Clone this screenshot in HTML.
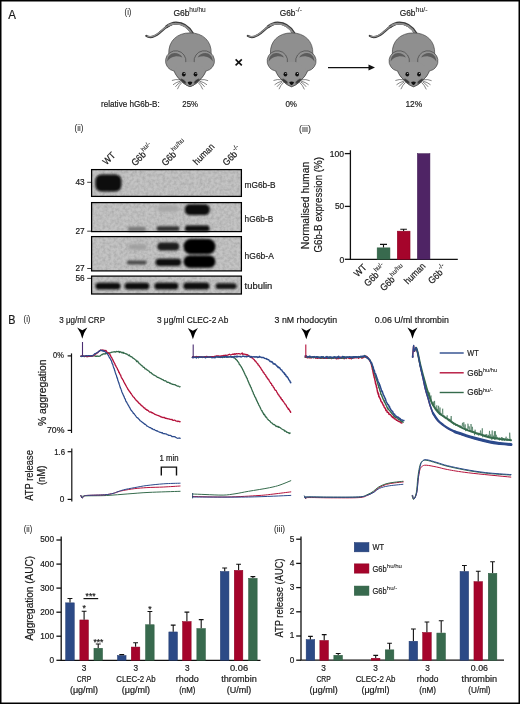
<!DOCTYPE html>
<html><head><meta charset="utf-8">
<style>
html,body{margin:0;padding:0;background:#fff;}
svg{display:block;will-change:transform;}
text{font-family:"Liberation Sans",sans-serif;fill:#1a1a1a;stroke:#1a1a1a;stroke-width:0.2px;}
</style></head>
<body>
<svg width="520" height="704" viewBox="0 0 520 704">
<defs>
<filter id="bl" x="-30%" y="-60%" width="160%" height="220%"><feGaussianBlur stdDeviation="1.05"/></filter>
<filter id="bls" x="-50%" y="-50%" width="200%" height="200%"><feGaussianBlur stdDeviation="0.45"/></filter>
<filter id="grain" x="0" y="0" width="100%" height="100%"><feTurbulence type="fractalNoise" baseFrequency="0.35" numOctaves="2" seed="7" result="t"/><feColorMatrix in="t" type="matrix" values="0 0 0 0 0  0 0 0 0 0  0 0 0 0 0  0 0 0 0.22 -0.07" result="m"/><feComposite in="m" in2="SourceGraphic" operator="in"/></filter>
<filter id="bl2" x="-30%" y="-60%" width="160%" height="220%"><feGaussianBlur stdDeviation="1.4"/></filter>
<clipPath id="faceclip"><path d="M174.6,71 C176,75 177.5,77 179,78.5 C182,82 185,85 190,86.9 C195,85 198,82 201,78.5 C202.5,77 204,75 205.4,71 L205.4,60 L174.6,60 Z"/></clipPath>
</defs>

<!-- frame -->
<rect x="0.75" y="0.75" width="518.5" height="702.5" fill="none" stroke="#000" stroke-width="1.5"/>

<!-- ===== PANEL A (i) ===== -->
<text x="8.2" y="18.9" font-size="12.4" textLength="7.7" lengthAdjust="spacingAndGlyphs">A</text>
<text x="124.6" y="15.2" font-size="9.2" textLength="6.8" lengthAdjust="spacingAndGlyphs" style="stroke-width:0.05px">(i)</text>

<text x="173.5" y="16.2" font-size="9.8" textLength="16.1" lengthAdjust="spacingAndGlyphs">G6b</text>
<text x="189.3" y="12.1" font-size="6.8" style="stroke-width:0.08px" textLength="16.4" lengthAdjust="spacingAndGlyphs">hu/hu</text>
<text x="279.7" y="16.2" font-size="9.8" textLength="15.7" lengthAdjust="spacingAndGlyphs">G6b</text>
<text x="295.6" y="12.1" font-size="6.8" style="stroke-width:0.08px" textLength="6.4" lengthAdjust="spacingAndGlyphs">-/-</text>
<text x="399.7" y="16.2" font-size="9.8" textLength="15.8" lengthAdjust="spacingAndGlyphs">G6b</text>
<text x="415.6" y="12.1" font-size="6.8" style="stroke-width:0.08px" textLength="12" lengthAdjust="spacingAndGlyphs">hu/-</text>

<g>
 <!-- tail -->
 <path d="M146.3,35.9 C149.6,38 154,37.3 159.5,32.9 C165,28 169,23.8 175,23.5 C182,23.3 188,26.5 192.2,33.8" fill="none" stroke="#3c3c3c" stroke-width="2.2" stroke-linecap="round"/>
 <path d="M166,27.2 C170,23.8 173,23 176,23 C183,23.1 188.8,26.8 192.6,33.8" fill="none" stroke="#3c3c3c" stroke-width="3"/>
 <path d="M147.2,35.9 C150,37.3 154,36.7 159.3,32.5 C165,27.7 169,23.9 175,23.6 C182,23.4 187.8,26.9 191.8,33.6" fill="none" stroke="#8e8e8e" stroke-width="1.1" stroke-linecap="round"/>
 <path d="M168,25.4 C171,23.9 173,23.6 175,23.6 C182,23.4 187.8,26.9 191.8,33.6" fill="none" stroke="#8e8e8e" stroke-width="1.8"/>
 <!-- body + head silhouette -->
 <path d="M190,32.9 C203,32.9 211.8,41 211.2,54 L205.4,71 C204,75 202.5,77 201,78.5 C198,82 195,85 190,86.7 C185,85 182,82 179,78.5 C177.5,77 176,75 174.6,71 L168.8,54 C168.2,41 177,32.9 190,32.9 Z" fill="#8f8f8f" stroke="#454545" stroke-width="0.7"/>
 <!-- ears -->
 <circle cx="175.7" cy="61" r="10.2" fill="#939393"/>
 <circle cx="204.3" cy="61" r="10.2" fill="#939393"/>
 <path d="M173.9,71 A10.2,10.2 0 1 1 185.8,62.6" fill="none" stroke="#454545" stroke-width="0.7"/>
 <path d="M206.1,71 A10.2,10.2 0 1 0 194.2,62.6" fill="none" stroke="#454545" stroke-width="0.7"/>
 <!-- face fill over ear bottoms -->
 <path d="M186,62 L194,62 C198,64 203,66 205.4,71 C204,75 202.5,77 201,78.5 C198,82 195,85 190,86.7 C185,85 182,82 179,78.5 C177.5,77 176,75 174.6,71 C177,66 182,64 186,62 Z" fill="#939393"/>
 <path d="M173.8,70.6 C175.6,75 177.5,77 179,78.5 C182,82 185,85 190,86.7 C195,85 198,82 201,78.5 C202.5,77 204.4,75 206.2,70.6" fill="none" stroke="#454545" stroke-width="0.7"/>
 <!-- inner ears -->
 <path d="M167.2,61.5 C167.4,56 171,53.1 174.5,53.1 C178,53.1 181,55 182.4,57.4 C180,56.4 177.5,56.2 175.1,56.4 C172,56.8 169,58.5 167.2,61.5 Z" fill="#5c5c5c"/>
 <path d="M212.8,61.5 C212.6,56 209,53.1 205.5,53.1 C202,53.1 199,55 197.6,57.4 C200,56.4 202.5,56.2 204.9,56.4 C208,56.8 211,58.5 212.8,61.5 Z" fill="#5c5c5c"/>
 <!-- whisker pads -->
 <g clip-path="url(#faceclip)">
 <ellipse cx="183.2" cy="81.3" rx="3.4" ry="1.5" transform="rotate(38 183.2 81.3)" fill="#3a3a3a" filter="url(#bls)"/>
 <ellipse cx="196.8" cy="81.3" rx="3.4" ry="1.5" transform="rotate(-38 196.8 81.3)" fill="#3a3a3a" filter="url(#bls)"/>
 </g>
 <!-- whiskers -->
 <g fill="none" stroke="#333" stroke-width="0.6">
  <path d="M180,79.8 Q175.5,79 171.9,80.5"/>
  <path d="M180.4,81.2 Q176,82.2 173,84.8"/>
  <path d="M182,82.4 Q179,85 177.4,89.2"/>
  <path d="M181,81.8 Q177.4,84 175.4,86.8"/>
  <path d="M200,79.8 Q204.5,79 208.1,80.7"/>
  <path d="M199.6,81.2 Q204,82.2 207,84.8"/>
  <path d="M198,82.4 Q201,85 202.8,89.4"/>
  <path d="M199,81.8 Q202.6,84 204.6,86.8"/>
 </g>
 <!-- eyes -->
 <ellipse cx="183.8" cy="74.2" rx="1.85" ry="2.2" fill="#111"/>
 <ellipse cx="195.5" cy="74.2" rx="1.85" ry="2.2" fill="#111"/>
 <circle cx="184.2" cy="73.5" r="0.55" fill="#ddd"/>
 <circle cx="195.9" cy="73.5" r="0.55" fill="#ddd"/>
 <!-- nose -->
 <path d="M187.6,82 Q190,80.8 192.4,82 Q192,84.4 190,85.2 Q188,84.4 187.6,82 Z" fill="#111"/>
</g>
<g transform="translate(101.6,0)">
 <!-- tail -->
 <path d="M146.3,35.9 C149.6,38 154,37.3 159.5,32.9 C165,28 169,23.8 175,23.5 C182,23.3 188,26.5 192.2,33.8" fill="none" stroke="#3c3c3c" stroke-width="2.2" stroke-linecap="round"/>
 <path d="M166,27.2 C170,23.8 173,23 176,23 C183,23.1 188.8,26.8 192.6,33.8" fill="none" stroke="#3c3c3c" stroke-width="3"/>
 <path d="M147.2,35.9 C150,37.3 154,36.7 159.3,32.5 C165,27.7 169,23.9 175,23.6 C182,23.4 187.8,26.9 191.8,33.6" fill="none" stroke="#8e8e8e" stroke-width="1.1" stroke-linecap="round"/>
 <path d="M168,25.4 C171,23.9 173,23.6 175,23.6 C182,23.4 187.8,26.9 191.8,33.6" fill="none" stroke="#8e8e8e" stroke-width="1.8"/>
 <!-- body + head silhouette -->
 <path d="M190,32.9 C203,32.9 211.8,41 211.2,54 L205.4,71 C204,75 202.5,77 201,78.5 C198,82 195,85 190,86.7 C185,85 182,82 179,78.5 C177.5,77 176,75 174.6,71 L168.8,54 C168.2,41 177,32.9 190,32.9 Z" fill="#8f8f8f" stroke="#454545" stroke-width="0.7"/>
 <!-- ears -->
 <circle cx="175.7" cy="61" r="10.2" fill="#939393"/>
 <circle cx="204.3" cy="61" r="10.2" fill="#939393"/>
 <path d="M173.9,71 A10.2,10.2 0 1 1 185.8,62.6" fill="none" stroke="#454545" stroke-width="0.7"/>
 <path d="M206.1,71 A10.2,10.2 0 1 0 194.2,62.6" fill="none" stroke="#454545" stroke-width="0.7"/>
 <!-- face fill over ear bottoms -->
 <path d="M186,62 L194,62 C198,64 203,66 205.4,71 C204,75 202.5,77 201,78.5 C198,82 195,85 190,86.7 C185,85 182,82 179,78.5 C177.5,77 176,75 174.6,71 C177,66 182,64 186,62 Z" fill="#939393"/>
 <path d="M173.8,70.6 C175.6,75 177.5,77 179,78.5 C182,82 185,85 190,86.7 C195,85 198,82 201,78.5 C202.5,77 204.4,75 206.2,70.6" fill="none" stroke="#454545" stroke-width="0.7"/>
 <!-- inner ears -->
 <path d="M167.2,61.5 C167.4,56 171,53.1 174.5,53.1 C178,53.1 181,55 182.4,57.4 C180,56.4 177.5,56.2 175.1,56.4 C172,56.8 169,58.5 167.2,61.5 Z" fill="#5c5c5c"/>
 <path d="M212.8,61.5 C212.6,56 209,53.1 205.5,53.1 C202,53.1 199,55 197.6,57.4 C200,56.4 202.5,56.2 204.9,56.4 C208,56.8 211,58.5 212.8,61.5 Z" fill="#5c5c5c"/>
 <!-- whisker pads -->
 <g clip-path="url(#faceclip)">
 <ellipse cx="183.2" cy="81.3" rx="3.4" ry="1.5" transform="rotate(38 183.2 81.3)" fill="#3a3a3a" filter="url(#bls)"/>
 <ellipse cx="196.8" cy="81.3" rx="3.4" ry="1.5" transform="rotate(-38 196.8 81.3)" fill="#3a3a3a" filter="url(#bls)"/>
 </g>
 <!-- whiskers -->
 <g fill="none" stroke="#333" stroke-width="0.6">
  <path d="M180,79.8 Q175.5,79 171.9,80.5"/>
  <path d="M180.4,81.2 Q176,82.2 173,84.8"/>
  <path d="M182,82.4 Q179,85 177.4,89.2"/>
  <path d="M181,81.8 Q177.4,84 175.4,86.8"/>
  <path d="M200,79.8 Q204.5,79 208.1,80.7"/>
  <path d="M199.6,81.2 Q204,82.2 207,84.8"/>
  <path d="M198,82.4 Q201,85 202.8,89.4"/>
  <path d="M199,81.8 Q202.6,84 204.6,86.8"/>
 </g>
 <!-- eyes -->
 <ellipse cx="183.8" cy="74.2" rx="1.85" ry="2.2" fill="#111"/>
 <ellipse cx="195.5" cy="74.2" rx="1.85" ry="2.2" fill="#111"/>
 <circle cx="184.2" cy="73.5" r="0.55" fill="#ddd"/>
 <circle cx="195.9" cy="73.5" r="0.55" fill="#ddd"/>
 <!-- nose -->
 <path d="M187.6,82 Q190,80.8 192.4,82 Q192,84.4 190,85.2 Q188,84.4 187.6,82 Z" fill="#111"/>
</g>
<g transform="translate(223.5,0)">
 <!-- tail -->
 <path d="M146.3,35.9 C149.6,38 154,37.3 159.5,32.9 C165,28 169,23.8 175,23.5 C182,23.3 188,26.5 192.2,33.8" fill="none" stroke="#3c3c3c" stroke-width="2.2" stroke-linecap="round"/>
 <path d="M166,27.2 C170,23.8 173,23 176,23 C183,23.1 188.8,26.8 192.6,33.8" fill="none" stroke="#3c3c3c" stroke-width="3"/>
 <path d="M147.2,35.9 C150,37.3 154,36.7 159.3,32.5 C165,27.7 169,23.9 175,23.6 C182,23.4 187.8,26.9 191.8,33.6" fill="none" stroke="#8e8e8e" stroke-width="1.1" stroke-linecap="round"/>
 <path d="M168,25.4 C171,23.9 173,23.6 175,23.6 C182,23.4 187.8,26.9 191.8,33.6" fill="none" stroke="#8e8e8e" stroke-width="1.8"/>
 <!-- body + head silhouette -->
 <path d="M190,32.9 C203,32.9 211.8,41 211.2,54 L205.4,71 C204,75 202.5,77 201,78.5 C198,82 195,85 190,86.7 C185,85 182,82 179,78.5 C177.5,77 176,75 174.6,71 L168.8,54 C168.2,41 177,32.9 190,32.9 Z" fill="#8f8f8f" stroke="#454545" stroke-width="0.7"/>
 <!-- ears -->
 <circle cx="175.7" cy="61" r="10.2" fill="#939393"/>
 <circle cx="204.3" cy="61" r="10.2" fill="#939393"/>
 <path d="M173.9,71 A10.2,10.2 0 1 1 185.8,62.6" fill="none" stroke="#454545" stroke-width="0.7"/>
 <path d="M206.1,71 A10.2,10.2 0 1 0 194.2,62.6" fill="none" stroke="#454545" stroke-width="0.7"/>
 <!-- face fill over ear bottoms -->
 <path d="M186,62 L194,62 C198,64 203,66 205.4,71 C204,75 202.5,77 201,78.5 C198,82 195,85 190,86.7 C185,85 182,82 179,78.5 C177.5,77 176,75 174.6,71 C177,66 182,64 186,62 Z" fill="#939393"/>
 <path d="M173.8,70.6 C175.6,75 177.5,77 179,78.5 C182,82 185,85 190,86.7 C195,85 198,82 201,78.5 C202.5,77 204.4,75 206.2,70.6" fill="none" stroke="#454545" stroke-width="0.7"/>
 <!-- inner ears -->
 <path d="M167.2,61.5 C167.4,56 171,53.1 174.5,53.1 C178,53.1 181,55 182.4,57.4 C180,56.4 177.5,56.2 175.1,56.4 C172,56.8 169,58.5 167.2,61.5 Z" fill="#5c5c5c"/>
 <path d="M212.8,61.5 C212.6,56 209,53.1 205.5,53.1 C202,53.1 199,55 197.6,57.4 C200,56.4 202.5,56.2 204.9,56.4 C208,56.8 211,58.5 212.8,61.5 Z" fill="#5c5c5c"/>
 <!-- whisker pads -->
 <g clip-path="url(#faceclip)">
 <ellipse cx="183.2" cy="81.3" rx="3.4" ry="1.5" transform="rotate(38 183.2 81.3)" fill="#3a3a3a" filter="url(#bls)"/>
 <ellipse cx="196.8" cy="81.3" rx="3.4" ry="1.5" transform="rotate(-38 196.8 81.3)" fill="#3a3a3a" filter="url(#bls)"/>
 </g>
 <!-- whiskers -->
 <g fill="none" stroke="#333" stroke-width="0.6">
  <path d="M180,79.8 Q175.5,79 171.9,80.5"/>
  <path d="M180.4,81.2 Q176,82.2 173,84.8"/>
  <path d="M182,82.4 Q179,85 177.4,89.2"/>
  <path d="M181,81.8 Q177.4,84 175.4,86.8"/>
  <path d="M200,79.8 Q204.5,79 208.1,80.7"/>
  <path d="M199.6,81.2 Q204,82.2 207,84.8"/>
  <path d="M198,82.4 Q201,85 202.8,89.4"/>
  <path d="M199,81.8 Q202.6,84 204.6,86.8"/>
 </g>
 <!-- eyes -->
 <ellipse cx="183.8" cy="74.2" rx="1.85" ry="2.2" fill="#111"/>
 <ellipse cx="195.5" cy="74.2" rx="1.85" ry="2.2" fill="#111"/>
 <circle cx="184.2" cy="73.5" r="0.55" fill="#ddd"/>
 <circle cx="195.9" cy="73.5" r="0.55" fill="#ddd"/>
 <!-- nose -->
 <path d="M187.6,82 Q190,80.8 192.4,82 Q192,84.4 190,85.2 Q188,84.4 187.6,82 Z" fill="#111"/>
</g>

<!-- cross -->
<g stroke="#111" stroke-width="1.6" stroke-linecap="butt">
 <line x1="235.6" y1="59.4" x2="241.8" y2="65.4"/>
 <line x1="241.8" y1="59.4" x2="235.6" y2="65.4"/>
</g>
<!-- arrow -->
<line x1="328" y1="67.6" x2="370" y2="67.6" stroke="#111" stroke-width="1.3"/>
<path d="M368.5,64.6 L375,67.6 L368.5,70.6 Z" fill="#111"/>

<text x="101.1" y="106.9" font-size="9.3" textLength="58.6" lengthAdjust="spacingAndGlyphs">relative hG6b-B:</text>
<text x="182.3" y="107" font-size="9.2" textLength="15.7" lengthAdjust="spacingAndGlyphs">25%</text>
<text x="285.4" y="106.8" font-size="9.2" textLength="11.6" lengthAdjust="spacingAndGlyphs">0%</text>
<text x="405.4" y="106.8" font-size="9.2" textLength="16.9" lengthAdjust="spacingAndGlyphs">12%</text>

<!-- BLOT_START -->
<text x="74.5" y="131.3" font-size="9.2" textLength="8.8" lengthAdjust="spacingAndGlyphs" style="stroke-width:0.05px">(ii)</text>
<!-- lane labels -->
<g transform="translate(106.6,165.6) rotate(-45)"><text x="0" y="0" font-size="9.6" textLength="13.4" lengthAdjust="spacingAndGlyphs">WT</text></g>
<g transform="translate(135.2,166.6) rotate(-45)"><text x="0" y="0" font-size="9.6" textLength="16" lengthAdjust="spacingAndGlyphs">G6b</text><text x="16.2" y="-4.6" font-size="6.6" style="stroke-width:0.08px" textLength="10.6" lengthAdjust="spacingAndGlyphs">hu/-</text></g>
<g transform="translate(165.4,166.4) rotate(-45)"><text x="0" y="0" font-size="9.6" textLength="16" lengthAdjust="spacingAndGlyphs">G6b</text><text x="16.2" y="-4.6" font-size="6.6" style="stroke-width:0.08px" textLength="15.5" lengthAdjust="spacingAndGlyphs">hu/hu</text></g>
<g transform="translate(197.0,165.4) rotate(-45)"><text x="0" y="0" font-size="9.6" textLength="25.6" lengthAdjust="spacingAndGlyphs">human</text></g>
<g transform="translate(226.6,166.2) rotate(-45)"><text x="0" y="0" font-size="9.6" textLength="16" lengthAdjust="spacingAndGlyphs">G6b</text><text x="16.2" y="-4.6" font-size="6.6" style="stroke-width:0.08px" textLength="6" lengthAdjust="spacingAndGlyphs">-/-</text></g>
<!-- blot backgrounds -->
<g fill="#c4c4c4">
 <rect x="91.6" y="169.6" width="149.8" height="26.8"/>
 <rect x="91.6" y="202.6" width="149.8" height="29"/>
 <rect x="91.6" y="236.6" width="149.8" height="34.3"/>
 <rect x="91.6" y="276.1" width="149.8" height="17.9"/>
</g>
<g fill="#000" filter="url(#grain)">
 <rect x="91.6" y="169.6" width="149.8" height="26.8"/>
 <rect x="91.6" y="202.6" width="149.8" height="29"/>
 <rect x="91.6" y="236.6" width="149.8" height="34.3"/>
 <rect x="91.6" y="276.1" width="149.8" height="17.9"/>
</g>
<!-- bands -->
<g filter="url(#bl)">
 <rect x="95.4" y="174.4" width="26" height="17" rx="6" fill="#080808"/>
 <!-- blot2 -->
 <rect x="157.5" y="205.6" width="21.5" height="5.8" rx="2.8" fill="#a6a6a6" filter="url(#bl)"/>
 <rect x="184.8" y="204.3" width="25" height="10.8" rx="5" fill="#0a0a0a"/>
 <rect x="127.8" y="226.8" width="18" height="4.8" rx="2.2" fill="#7a7a7a"/>
 <rect x="156.5" y="226.2" width="23" height="4.8" rx="2.2" fill="#333"/>
 <rect x="185" y="225.6" width="24.5" height="5.8" rx="2.5" fill="#0a0a0a"/>
 <!-- blot3 -->
 <rect x="128.6" y="244.2" width="18" height="5.4" rx="2.6" fill="#9e9e9e" filter="url(#bl)"/>
 <rect x="126.8" y="260.6" width="19.8" height="4" rx="2" fill="#4a4a4a"/>
 <rect x="157.4" y="242.4" width="21.8" height="8.2" rx="3.8" fill="#1e1e1e"/>
 <rect x="155.6" y="258.8" width="25.6" height="7.2" rx="3.4" fill="#0e0e0e"/>
 <rect x="183.6" y="239.1" width="31.8" height="15" rx="7" fill="#050505"/>
 <rect x="183.6" y="255.4" width="31.8" height="12.4" rx="6" fill="#050505"/>
 <!-- tubulin -->
 <rect x="95.5" y="282.8" width="25" height="6.6" rx="3.2" fill="#0e0e0e"/>
 <rect x="124.7" y="282.8" width="24.6" height="6.6" rx="3.2" fill="#0e0e0e"/>
 <rect x="154.5" y="282.8" width="23.8" height="6.6" rx="3.2" fill="#0e0e0e"/>
 <rect x="183.3" y="282.4" width="26.2" height="7.2" rx="3.5" fill="#0e0e0e"/>
 <rect x="215.6" y="283.2" width="21" height="5.8" rx="2.8" fill="#141414"/>
</g>
<g fill="none" stroke="#000" stroke-width="1.25">
 <rect x="91.6" y="169.6" width="149.8" height="26.8"/>
 <rect x="91.6" y="202.6" width="149.8" height="29"/>
 <rect x="91.6" y="236.6" width="149.8" height="34.3"/>
 <rect x="91.6" y="276.1" width="149.8" height="17.9"/>
</g>
<!-- MW markers -->
<g stroke="#111" stroke-width="0.8">
 <line x1="87.2" y1="182.3" x2="91" y2="182.3"/>
 <line x1="87.2" y1="231.2" x2="91" y2="231.2"/>
 <line x1="87.2" y1="268.5" x2="91" y2="268.5"/>
 <line x1="87.2" y1="278.4" x2="91" y2="278.4"/>
</g>
<g font-size="8.6">
 <text x="75.4" y="184.8" textLength="9.2" lengthAdjust="spacingAndGlyphs">43</text>
 <text x="75.4" y="234.3" textLength="9.2" lengthAdjust="spacingAndGlyphs">27</text>
 <text x="75.4" y="271.3" textLength="9.2" lengthAdjust="spacingAndGlyphs">27</text>
 <text x="75.4" y="280.9" textLength="9.2" lengthAdjust="spacingAndGlyphs">56</text>
</g>
<g font-size="9">
 <text x="244.6" y="187.6" textLength="30.9" lengthAdjust="spacingAndGlyphs">mG6b-B</text>
 <text x="244.6" y="221.8" textLength="28.6" lengthAdjust="spacingAndGlyphs">hG6b-B</text>
 <text x="244.6" y="258.7" textLength="29.2" lengthAdjust="spacingAndGlyphs">hG6b-A</text>
 <text x="244.6" y="289.2" textLength="27.7" lengthAdjust="spacingAndGlyphs">tubulin</text>
</g>
<!-- BLOT_END -->

<!-- BARIII_START -->
<text x="299.1" y="131.5" font-size="9.2" textLength="11.8" lengthAdjust="spacingAndGlyphs" style="stroke-width:0.05px">(iii)</text>
<g stroke="#111" stroke-width="1.3" fill="none"><path d="M350.4,150.3 V259.3 H457.8"/><path d="M344.8,153.6 H350.4"/><path d="M344.8,206.4 H350.4"/><path d="M344.8,259.3 H350.4"/></g>
<text x="344.1" y="157" font-size="9" textLength="14.3" lengthAdjust="spacingAndGlyphs" text-anchor="end">100</text>
<text x="344.1" y="209.4" font-size="9" textLength="9.2" lengthAdjust="spacingAndGlyphs" text-anchor="end">50</text>
<text x="344.4" y="262.6" font-size="9" textLength="4.8" lengthAdjust="spacingAndGlyphs" text-anchor="end">0</text>
<rect x="377.15" y="247.85" width="12.8" height="11.4" fill="#386a4e" stroke="#2a5a3e" stroke-width="0.5"/>
<rect x="397.25" y="231.15" width="12.8" height="28.1" fill="#a5042b" stroke="#8a0022" stroke-width="0.5"/>
<rect x="417.35" y="153.65" width="12.6" height="105.6" fill="#4f2465" stroke="#3e1a52" stroke-width="0.5"/>
<g stroke="#111" stroke-width="1.1"><path d="M383.5,247.6 V244.4 M380,244.4 H387"/><path d="M403.6,230.9 V229.3 M400.3,229.3 H406.9"/></g>
<text transform="translate(308.8,205.4) rotate(-90)" font-size="10.8" text-anchor="middle" textLength="87.5" lengthAdjust="spacingAndGlyphs">Normalised human</text>
<text transform="translate(321.6,204.8) rotate(-90)" font-size="10.8" text-anchor="middle" textLength="95.5" lengthAdjust="spacingAndGlyphs">G6b-B expression (%)</text>
<g transform="translate(357.8,277.6) rotate(-45)"><text x="0" y="0" font-size="9.6" textLength="13.4" lengthAdjust="spacingAndGlyphs">WT</text></g>
<g transform="translate(368.0,287.0) rotate(-45)"><text x="0" y="0" font-size="9.6" textLength="16" lengthAdjust="spacingAndGlyphs">G6b</text><text x="16.2" y="-4.6" font-size="6.6" style="stroke-width:0.08px" textLength="10.6" lengthAdjust="spacingAndGlyphs">hu/-</text></g>
<g transform="translate(384.0,291.6) rotate(-45)"><text x="0" y="0" font-size="9.6" textLength="16" lengthAdjust="spacingAndGlyphs">G6b</text><text x="16.2" y="-4.6" font-size="6.6" style="stroke-width:0.08px" textLength="15.5" lengthAdjust="spacingAndGlyphs">hu/hu</text></g>
<g transform="translate(408.0,284.8) rotate(-45)"><text x="0" y="0" font-size="9.6" textLength="25.6" lengthAdjust="spacingAndGlyphs">human</text></g>
<g transform="translate(432.0,284.6) rotate(-45)"><text x="0" y="0" font-size="9.6" textLength="16" lengthAdjust="spacingAndGlyphs">G6b</text><text x="16.2" y="-4.6" font-size="6.6" style="stroke-width:0.08px" textLength="6" lengthAdjust="spacingAndGlyphs">-/-</text></g>
<!-- BARIII_END -->

<!-- TRACES_START -->
<text x="8.3" y="323.8" font-size="12.4" textLength="7.2" lengthAdjust="spacingAndGlyphs">B</text>
<text x="23.6" y="322.3" font-size="9.2" textLength="6.8" lengthAdjust="spacingAndGlyphs" style="stroke-width:0.05px">(i)</text>
<text x="59.3" y="322.6" font-size="9" textLength="45.7" lengthAdjust="spacingAndGlyphs">3 μg/ml CRP</text>
<text x="156.9" y="322.6" font-size="9" textLength="71.4" lengthAdjust="spacingAndGlyphs">3 μg/ml CLEC-2 Ab</text>
<text x="274.6" y="322.6" font-size="9" textLength="62.5" lengthAdjust="spacingAndGlyphs">3 nM rhodocytin</text>
<text x="374.8" y="322.6" font-size="9" textLength="74" lengthAdjust="spacingAndGlyphs">0.06 U/ml thrombin</text>
<path d="M77.2,327.6 Q80.1,329.5 82.3,330.2 Q84.5,329.5 87.3,327.6 Q84.1,332.0 82.3,338.8 Q80.5,332.0 77.2,327.6 Z" fill="#000"/>
<path d="M187.8,328.1 Q190.7,330.0 192.9,330.7 Q195.1,330.0 197.9,328.1 Q194.7,332.5 192.9,339.3 Q191.1,332.5 187.8,328.1 Z" fill="#000"/>
<path d="M301.2,328.1 Q304.1,330.0 306.3,330.7 Q308.5,330.0 311.3,328.1 Q308.1,332.5 306.3,339.3 Q304.5,332.5 301.2,328.1 Z" fill="#000"/>
<path d="M407.4,327.6 Q410.3,329.5 412.5,330.2 Q414.7,329.5 417.5,327.6 Q414.3,332.0 412.5,338.8 Q410.7,332.0 407.4,327.6 Z" fill="#000"/>
<g stroke="#111" stroke-width="1.2" fill="none">
<path d="M71.5,353.4 V433"/><path d="M67.6,355.9 H71.5"/><path d="M67.6,430.4 H71.5"/>
<path d="M71.8,448.6 V501.6"/><path d="M67.6,451.7 H71.8"/><path d="M67.6,499.4 H71.8"/>
<path d="M161.3,475.4 V467.1 H176.5 V475.4" stroke-width="1.4"/>
</g>
<text x="53" y="358.4" font-size="8.2" textLength="10.8" lengthAdjust="spacingAndGlyphs">0%</text>
<text x="47" y="433.4" font-size="8.2" textLength="17.4" lengthAdjust="spacingAndGlyphs">70%</text>
<text x="54.2" y="455.3" font-size="8.2" textLength="10.8" lengthAdjust="spacingAndGlyphs">1.6</text>
<text x="59.8" y="502.4" font-size="8.2" textLength="4.6" lengthAdjust="spacingAndGlyphs">0</text>
<text x="159.6" y="461.4" font-size="8.2" textLength="19" lengthAdjust="spacingAndGlyphs">1 min</text>
<text transform="translate(46.4,426) rotate(-90)" font-size="10" textLength="66.5" lengthAdjust="spacingAndGlyphs">% aggregation</text>
<text transform="translate(33.1,500.8) rotate(-90)" font-size="10.2" textLength="50.7" lengthAdjust="spacingAndGlyphs">ATP release</text>
<text transform="translate(45.3,485.1) rotate(-90)" font-size="10" textLength="19.5" lengthAdjust="spacingAndGlyphs">(nM)</text>
<path d="M80.90,356.22 L81.31,356.52 L81.79,355.97 L82.35,356.46 L82.97,356.15 L83.66,356.16 L84.39,356.71 L85.17,356.28 L85.99,356.24 L86.84,356.44 L87.71,356.55 L88.60,356.27 L89.49,356.43 L90.39,356.05 L91.28,356.20 L92.16,356.19 L93.02,355.97 L93.85,355.93 L94.65,355.91 L95.40,356.26 L96.11,356.27 L96.76,356.24 L97.34,356.33 L97.86,355.97 L98.30,356.28 L100.15,356.16 L100.00,355.99 L100.52,355.30 L101.40,355.00 L101.97,354.39 L102.64,354.53 L103.41,353.84 L104.24,353.76 L105.12,354.12 L106.00,353.05 L106.69,353.62 L107.42,353.32 L108.18,352.98 L108.96,353.00 L109.74,352.84 L110.52,352.82 L111.27,352.36 L112.00,352.15 L112.78,352.03 L113.53,351.83 L114.26,351.98 L114.99,351.72 L115.73,352.15 L116.49,351.40 L117.30,351.63 L117.95,351.70 L118.61,351.46 L119.28,352.52 L119.96,351.51 L120.66,352.15 L121.38,352.22 L122.12,352.93 L122.90,352.24 L123.70,353.27 L124.28,353.03 L124.88,353.40 L125.50,353.52 L126.13,354.12 L126.78,353.96 L127.44,354.53 L128.10,354.96 L128.77,355.67 L129.44,354.97 L130.11,356.33 L130.78,356.58 L131.45,356.64 L132.10,357.28 L132.62,357.46 L133.14,358.38 L133.66,358.43 L134.17,358.75 L134.68,359.18 L135.19,359.64 L135.70,360.11 L136.21,360.41 L136.73,361.63 L137.25,361.13 L137.79,361.20 L138.32,362.57 L138.87,363.06 L139.44,363.69 L140.01,364.05 L140.60,364.56 L141.11,365.11 L141.63,365.70 L142.16,365.79 L142.70,366.26 L143.24,367.30 L143.80,367.41 L144.36,367.50 L144.92,368.80 L145.49,368.88 L146.06,369.01 L146.64,369.33 L147.21,370.16 L147.79,370.33 L148.36,370.73 L148.94,371.11 L149.51,371.74 L150.08,372.57 L150.64,372.59 L151.20,372.74 L151.82,373.70 L152.44,373.97 L153.06,374.57 L153.68,375.07 L154.29,375.12 L154.91,375.51 L155.53,375.92 L156.14,376.02 L156.76,376.84 L157.37,377.37 L157.99,377.43 L158.61,377.67 L159.22,378.01 L159.84,378.22 L160.46,378.54 L161.08,378.97 L161.70,379.19 L162.36,379.63 L163.04,379.68 L163.72,380.50 L164.41,380.75 L165.10,380.77 L165.79,380.79 L166.48,381.67 L167.17,382.25 L167.85,382.08 L168.53,382.43 L169.19,382.69 L169.84,383.27 L170.48,383.14 L171.11,383.87 L171.71,383.79 L172.30,384.33 L173.14,384.44 L173.99,384.69 L174.84,384.68 L175.67,385.17 L176.47,385.55 L177.24,386.03 L177.96,386.16 L178.61,386.14 L179.19,386.60 L179.69,386.91 L180.10,386.76" fill="none" stroke="#356b4c" stroke-width="1.3" stroke-linejoin="round" stroke-linecap="round"/>
<path d="M80.90,356.09 L81.33,356.10 L81.87,356.41 L82.51,356.35 L83.22,356.00 L84.00,356.35 L84.83,356.15 L85.70,356.09 L86.58,356.60 L87.47,356.50 L88.34,356.10 L89.19,356.28 L89.99,356.35 L90.74,356.01 L91.41,356.06 L92.00,356.17 L92.93,355.31 L93.72,355.52 L94.39,355.25 L94.98,354.78 L95.51,353.88 L96.01,353.87 L96.49,353.16 L97.00,353.14 L97.67,352.67 L98.28,352.08 L98.85,351.35 L99.39,350.94 L99.90,350.91 L100.40,350.18 L101.32,350.18 L102.16,350.08 L103.00,349.93 L103.67,350.70 L104.34,350.30 L105.02,351.08 L105.70,350.40 L106.26,350.70 L106.83,351.92 L107.40,352.31 L107.96,352.58 L108.50,353.19 L108.96,353.16 L109.34,353.82 L109.74,354.16 L110.26,355.10 L111.00,356.62 L111.24,356.85 L111.50,357.41 L111.78,357.67 L112.08,358.29 L112.38,359.03 L112.71,359.55 L113.04,360.60 L113.38,360.74 L113.73,362.13 L114.08,362.12 L114.45,363.35 L114.81,363.62 L115.17,364.96 L115.54,365.31 L115.90,366.11 L116.26,366.91 L116.61,367.28 L116.96,367.87 L117.30,368.29 L117.62,369.74 L117.94,369.89 L118.26,370.56 L118.58,371.35 L118.90,372.50 L119.22,372.22 L119.54,373.37 L119.86,373.86 L120.18,374.74 L120.50,374.81 L120.82,375.81 L121.14,376.77 L121.46,377.59 L121.78,378.23 L122.10,378.25 L122.42,379.10 L122.74,379.68 L123.06,379.97 L123.38,380.55 L123.70,381.69 L124.07,382.24 L124.43,382.81 L124.79,383.80 L125.14,383.89 L125.49,384.90 L125.84,385.40 L126.19,386.00 L126.54,386.75 L126.90,387.28 L127.25,387.91 L127.62,388.51 L127.99,389.53 L128.37,389.57 L128.76,390.51 L129.16,391.02 L129.57,391.39 L130.00,392.30 L130.39,392.45 L130.79,393.52 L131.20,393.59 L131.61,394.25 L132.03,395.02 L132.45,395.73 L132.88,396.32 L133.32,396.89 L133.76,397.19 L134.21,397.58 L134.67,398.52 L135.13,399.02 L135.59,399.27 L136.06,400.30 L136.54,400.66 L137.02,400.90 L137.51,401.78 L138.00,401.86 L138.50,402.48 L139.00,403.30 L139.50,403.30 L140.00,404.19 L140.50,404.33 L141.01,405.32 L141.52,405.43 L142.04,406.12 L142.56,406.16 L143.09,406.90 L143.63,407.67 L144.17,407.99 L144.73,407.85 L145.30,408.97 L145.88,409.39 L146.47,409.49 L147.08,410.35 L147.70,410.14 L148.34,410.78 L149.00,411.48 L149.56,411.85 L150.13,412.16 L150.71,411.88 L151.30,412.02 L151.90,412.87 L152.52,412.72 L153.14,413.34 L153.77,413.35 L154.41,414.22 L155.06,414.45 L155.71,414.67 L156.37,414.81 L157.03,415.09 L157.70,415.28 L158.37,415.72 L159.05,415.94 L159.72,416.25 L160.40,416.29 L161.08,417.12 L161.76,416.96 L162.44,417.48 L163.12,417.70 L163.80,417.38 L164.46,417.40 L165.16,418.35 L165.88,418.16 L166.62,418.50 L167.38,418.63 L168.15,418.94 L168.94,418.82 L169.73,419.29 L170.52,419.40 L171.31,419.71 L172.10,419.33 L172.88,420.31 L173.64,420.37 L174.39,420.03 L175.12,420.45 L175.82,420.80 L176.49,421.11 L177.14,421.10 L177.74,421.58 L178.31,421.37 L178.83,421.24 L179.31,421.43 L179.73,421.89 L180.10,421.65" fill="none" stroke="#b5123b" stroke-width="1.3" stroke-linejoin="round" stroke-linecap="round"/>
<path d="M80.90,356.41 L81.35,356.44 L81.96,356.31 L82.69,356.39 L83.49,356.07 L84.34,356.08 L85.18,355.89 L86.00,355.85 L86.71,355.58 L87.46,355.82 L88.23,355.68 L89.01,355.58 L89.78,355.94 L90.53,355.96 L91.24,355.66 L91.90,355.94 L92.70,355.55 L93.43,355.20 L94.11,354.36 L94.76,353.68 L95.38,353.75 L96.00,353.28 L96.73,352.92 L97.43,352.37 L98.10,352.13 L98.72,351.34 L99.30,351.27 L100.12,350.56 L100.81,350.06 L101.50,350.49 L102.20,351.00 L102.90,350.34 L103.60,351.25 L104.33,351.20 L105.08,351.75 L105.80,352.41 L106.31,352.87 L106.80,353.01 L107.29,353.79 L107.80,354.51 L108.16,355.13 L108.53,355.32 L108.90,356.53 L109.27,357.28 L109.64,358.10 L110.00,357.86 L110.28,358.79 L110.52,358.76 L110.75,359.80 L110.99,360.38 L111.27,360.61 L111.60,361.33 L112.00,362.85 L112.18,363.45 L112.38,363.64 L112.58,364.35 L112.80,364.39 L113.03,365.49 L113.27,366.38 L113.51,367.08 L113.76,368.16 L114.01,368.21 L114.27,368.68 L114.53,370.11 L114.79,370.61 L115.05,371.59 L115.31,372.45 L115.56,373.18 L115.81,374.13 L116.06,374.83 L116.30,374.78 L116.52,375.85 L116.74,377.02 L116.96,377.09 L117.17,378.10 L117.38,378.51 L117.60,379.08 L117.81,380.25 L118.02,380.79 L118.23,381.14 L118.44,382.09 L118.66,382.21 L118.88,383.03 L119.10,384.10 L119.32,384.56 L119.55,384.96 L119.78,386.00 L120.01,386.64 L120.25,387.55 L120.50,388.14 L120.75,388.50 L121.01,389.13 L121.26,389.89 L121.53,390.55 L121.79,391.66 L122.06,392.37 L122.33,393.00 L122.60,393.44 L122.88,393.97 L123.16,394.93 L123.44,395.30 L123.73,396.12 L124.01,396.31 L124.31,397.29 L124.60,398.41 L124.90,398.44 L125.19,398.97 L125.50,399.94 L125.80,401.02 L126.14,401.65 L126.48,401.88 L126.82,402.52 L127.17,403.27 L127.51,403.72 L127.86,404.61 L128.21,405.17 L128.57,405.51 L128.93,406.37 L129.30,407.08 L129.67,407.55 L130.06,408.10 L130.45,409.21 L130.84,410.07 L131.25,410.13 L131.67,410.70 L132.10,411.53 L132.51,411.91 L132.94,412.33 L133.37,413.43 L133.80,413.38 L134.24,414.01 L134.69,414.57 L135.15,415.06 L135.61,415.77 L136.08,416.51 L136.56,417.25 L137.04,417.58 L137.53,417.95 L138.03,418.14 L138.53,418.94 L139.04,419.22 L139.55,419.92 L140.07,420.67 L140.60,420.95 L141.13,421.31 L141.67,421.64 L142.22,422.27 L142.78,422.75 L143.34,422.93 L143.90,423.47 L144.48,424.25 L145.06,424.03 L145.64,424.75 L146.24,424.98 L146.84,426.06 L147.44,426.22 L148.05,426.58 L148.67,426.94 L149.29,427.28 L149.92,427.65 L150.56,427.55 L151.20,428.36 L151.81,428.78 L152.42,428.59 L153.04,429.46 L153.66,429.72 L154.28,429.47 L154.90,430.02 L155.54,430.34 L156.17,430.56 L156.82,431.06 L157.47,430.91 L158.13,431.43 L158.80,431.81 L159.48,432.19 L160.17,432.29 L160.87,432.47 L161.58,432.97 L162.31,432.56 L163.05,433.56 L163.80,433.52 L164.42,433.51 L165.08,433.94 L165.77,433.82 L166.49,434.01 L167.23,434.68 L168.00,434.81 L168.77,435.44 L169.56,435.28 L170.36,435.43 L171.15,435.76 L171.95,436.67 L172.74,436.49 L173.51,436.56 L174.28,436.70 L175.02,436.90 L175.74,437.34 L176.43,437.70 L177.08,438.08 L177.70,438.26 L178.28,438.22 L178.82,438.14 L179.30,438.24 L179.73,438.01 L180.10,438.45" fill="none" stroke="#2b4a8c" stroke-width="1.25" stroke-linejoin="round" stroke-linecap="round"/>
<path d="M82.5,356.4 V342" stroke="#4b2e72" stroke-width="1.1"/>
<path d="M192.40,357.33 L192.78,357.10 L193.19,357.31 L193.65,356.79 L194.14,357.46 L194.67,357.27 L195.23,357.19 L195.82,357.30 L196.45,356.50 L197.10,357.00 L197.78,356.90 L198.48,357.71 L199.21,357.10 L199.96,357.00 L200.73,357.40 L201.51,356.83 L202.31,357.56 L203.13,356.92 L203.96,357.11 L204.80,356.85 L205.65,357.36 L206.50,356.46 L207.36,357.31 L208.23,356.85 L209.09,357.11 L209.96,356.74 L210.82,357.15 L211.68,357.13 L212.54,357.25 L213.38,357.16 L214.22,357.25 L215.05,357.36 L215.87,356.94 L216.67,356.69 L217.46,356.66 L218.23,357.24 L218.97,356.92 L219.70,357.35 L220.41,357.04 L221.09,356.72 L221.74,357.29 L222.36,357.60 L222.96,356.96 L223.52,356.73 L224.05,356.75 L224.54,357.27 L225.00,356.82 L226.79,356.86 L228.17,357.14 L229.22,356.89 L230.00,356.87 L230.57,356.62 L231.00,356.57 L231.36,356.81 L231.70,356.84 L232.09,357.05 L232.60,356.85 L233.37,357.35 L234.01,357.67 L234.57,357.89 L235.09,358.45 L235.60,359.10 L236.16,359.49 L236.80,360.22 L237.15,360.34 L237.50,361.19 L237.87,361.54 L238.23,361.99 L238.61,362.37 L238.99,363.35 L239.37,364.54 L239.77,364.52 L240.17,365.07 L240.58,365.86 L241.00,366.27 L241.42,367.22 L241.86,367.78 L242.30,368.61 L242.57,369.39 L242.86,369.94 L243.14,370.40 L243.43,370.78 L243.73,371.70 L244.03,371.91 L244.34,373.11 L244.64,373.42 L244.95,374.18 L245.27,375.08 L245.58,375.69 L245.90,375.82 L246.21,376.82 L246.53,377.69 L246.84,377.95 L247.16,378.25 L247.47,379.64 L247.78,380.34 L248.09,381.16 L248.40,381.74 L248.70,382.43 L249.00,383.12 L249.30,384.11 L249.59,384.49 L249.88,385.15 L250.17,385.52 L250.45,386.62 L250.73,386.87 L251.01,387.79 L251.28,387.58 L251.56,388.93 L251.83,389.47 L252.11,390.00 L252.38,391.17 L252.66,391.55 L252.93,392.03 L253.21,392.56 L253.48,393.92 L253.76,394.22 L254.05,394.84 L254.33,395.06 L254.62,396.32 L254.91,396.74 L255.20,397.13 L255.50,397.83 L255.80,398.01 L256.11,399.34 L256.41,399.48 L256.72,400.72 L257.03,401.01 L257.35,401.63 L257.66,402.60 L257.98,403.24 L258.30,403.52 L258.62,404.52 L258.94,405.40 L259.27,405.82 L259.59,406.16 L259.92,407.16 L260.25,407.61 L260.59,408.37 L260.92,409.20 L261.25,409.80 L261.59,410.37 L261.93,410.55 L262.27,411.74 L262.61,412.15 L262.96,412.64 L263.30,413.35 L263.74,414.54 L264.18,414.22 L264.62,414.75 L265.06,416.06 L265.51,416.18 L265.95,417.37 L266.40,417.23 L266.85,417.92 L267.31,418.83 L267.77,419.36 L268.23,419.72 L268.70,420.20 L269.18,420.50 L269.67,420.87 L270.16,421.40 L270.67,422.29 L271.18,422.57 L271.70,422.81 L272.27,423.35 L272.86,423.95 L273.47,424.48 L274.10,424.51 L274.74,424.92 L275.39,425.44 L276.05,426.50 L276.71,426.17 L277.37,426.83 L278.03,426.35 L278.68,427.41 L279.32,427.07 L279.95,427.50 L280.57,427.96 L281.17,428.43 L281.75,428.84 L282.30,429.21 L283.07,429.61 L283.85,429.85 L284.63,431.19 L285.40,430.96 L286.14,431.45 L286.86,432.25 L287.54,432.30 L288.18,432.53 L288.76,432.77 L289.28,433.51 L289.73,432.88 L290.10,433.11" fill="none" stroke="#356b4c" stroke-width="1.3" stroke-linejoin="round" stroke-linecap="round"/>
<path d="M192.40,357.24 L192.78,356.58 L193.21,356.94 L193.69,357.50 L194.21,357.01 L194.78,357.18 L195.38,357.33 L196.01,356.76 L196.68,357.17 L197.38,356.88 L198.10,356.73 L198.85,356.95 L199.62,357.00 L200.42,356.88 L201.22,356.78 L202.04,357.24 L202.88,357.28 L203.72,357.08 L204.57,356.86 L205.42,356.55 L206.27,356.60 L207.11,356.49 L207.96,356.85 L208.79,357.03 L209.62,357.00 L210.43,356.70 L211.22,356.56 L212.00,356.70 L212.76,356.65 L213.49,356.76 L214.20,356.98 L214.87,356.31 L215.52,357.10 L216.13,355.81 L216.70,355.87 L217.67,355.88 L218.59,355.94 L219.46,356.09 L220.30,356.69 L221.10,355.77 L221.86,356.21 L222.60,355.67 L223.30,355.72 L223.98,355.26 L224.64,356.13 L225.27,355.34 L225.89,355.06 L226.50,355.82 L227.09,355.10 L227.68,355.07 L228.26,354.81 L228.84,354.51 L229.42,354.25 L230.00,354.55 L230.91,354.96 L231.79,354.50 L232.64,354.21 L233.45,354.47 L234.24,353.78 L234.99,354.37 L235.72,353.87 L236.41,353.55 L237.08,353.93 L237.72,353.83 L238.32,353.53 L238.90,353.66 L239.92,353.87 L240.78,354.02 L241.51,353.42 L242.18,352.98 L242.82,354.48 L243.50,353.92 L244.30,354.02 L245.04,354.42 L245.77,354.35 L246.54,355.04 L247.40,354.73 L248.00,355.33 L248.65,355.34 L249.33,356.53 L250.03,356.40 L250.72,357.22 L251.41,357.76 L252.08,357.46 L252.70,358.23 L253.22,358.96 L253.72,359.24 L254.21,359.67 L254.69,360.48 L255.15,361.02 L255.61,361.12 L256.07,361.81 L256.53,362.61 L257.00,363.06 L257.41,363.55 L257.78,363.65 L258.14,364.96 L258.49,364.84 L258.84,365.48 L259.22,365.92 L259.63,366.54 L260.09,367.23 L260.61,367.69 L261.20,368.91 L261.51,369.61 L261.84,369.86 L262.18,370.47 L262.54,370.93 L262.91,371.36 L263.29,372.47 L263.69,372.32 L264.09,373.25 L264.50,374.07 L264.92,374.48 L265.34,374.73 L265.77,375.37 L266.20,376.82 L266.64,376.73 L267.07,377.67 L267.50,378.49 L267.93,379.01 L268.36,379.10 L268.78,379.70 L269.19,380.86 L269.60,381.27 L270.00,382.02 L270.39,382.71 L270.77,383.32 L271.15,383.44 L271.53,383.91 L271.90,385.25 L272.27,385.35 L272.64,385.75 L273.02,386.07 L273.39,387.39 L273.77,387.43 L274.16,388.07 L274.55,389.16 L274.95,389.67 L275.36,390.35 L275.78,390.43 L276.22,390.60 L276.66,391.81 L277.13,392.69 L277.60,393.28 L278.10,394.47 L278.45,394.82 L278.83,394.94 L279.22,395.98 L279.63,396.35 L280.05,396.85 L280.49,397.96 L280.93,397.76 L281.39,399.22 L281.86,399.90 L282.33,399.64 L282.81,400.87 L283.29,401.56 L283.78,401.95 L284.26,402.80 L284.74,403.41 L285.22,404.35 L285.69,404.83 L286.16,405.01 L286.61,406.65 L287.06,407.19 L287.50,407.29 L287.92,408.39 L288.32,409.31 L288.71,408.78 L289.08,409.65 L289.43,410.11 L289.75,410.89 L290.05,411.06 L290.33,411.12 L290.58,412.27 L290.80,412.10" fill="none" stroke="#b5123b" stroke-width="1.3" stroke-linejoin="round" stroke-linecap="round"/>
<path d="M192.40,357.42 L192.77,357.88 L193.19,356.97 L193.64,357.07 L194.13,357.46 L194.65,357.15 L195.20,357.33 L195.79,357.17 L196.40,358.01 L197.05,357.35 L197.71,357.26 L198.40,357.19 L199.11,357.26 L199.85,356.66 L200.59,357.06 L201.36,357.35 L202.14,356.76 L202.93,357.13 L203.73,357.08 L204.54,356.95 L205.36,357.85 L206.18,357.31 L207.00,357.18 L207.83,356.84 L208.65,357.09 L209.47,356.97 L210.29,357.03 L211.10,357.11 L211.91,357.79 L212.70,357.43 L213.48,357.53 L214.25,357.42 L215.00,357.85 L215.69,356.79 L216.38,356.60 L217.09,357.03 L217.81,357.04 L218.53,356.96 L219.27,356.75 L220.01,357.13 L220.76,357.43 L221.51,356.96 L222.27,356.82 L223.03,357.23 L223.79,356.76 L224.55,356.73 L225.32,356.92 L226.08,356.13 L226.85,357.36 L227.61,356.75 L228.37,356.92 L229.12,356.85 L229.87,356.86 L230.62,356.33 L231.36,357.25 L232.09,356.87 L232.82,356.78 L233.53,357.62 L234.24,356.29 L234.93,356.88 L235.61,356.62 L236.29,356.19 L236.94,357.21 L237.59,356.15 L238.21,356.66 L238.83,356.58 L239.42,356.66 L240.00,356.32 L240.94,357.01 L241.85,356.67 L242.73,356.21 L243.60,356.23 L244.44,356.68 L245.25,356.26 L246.04,356.74 L246.81,356.72 L247.56,356.45 L248.28,356.06 L248.99,356.26 L249.66,356.77 L250.32,356.52 L250.96,357.25 L251.57,356.57 L252.16,356.84 L252.73,356.94 L253.28,356.78 L253.81,356.86 L254.31,357.09 L254.80,356.76 L256.04,356.95 L256.98,356.80 L257.69,357.57 L258.26,357.09 L258.78,357.37 L259.33,356.31 L260.00,357.16 L260.77,357.07 L261.57,357.53 L262.37,357.50 L263.17,357.45 L263.95,357.83 L264.70,358.34 L265.40,358.62 L266.16,358.43 L266.85,359.23 L267.51,359.08 L268.16,359.84 L268.81,359.81 L269.50,360.82 L270.12,361.59 L270.74,361.23 L271.38,362.13 L272.02,361.78 L272.66,362.49 L273.28,363.94 L273.90,363.58 L274.50,364.20 L275.09,363.99 L275.67,364.91 L276.24,365.12 L276.82,366.17 L277.41,366.13 L278.00,367.57 L278.53,366.94 L279.06,367.86 L279.60,367.66 L280.14,368.65 L280.69,369.67 L281.23,369.83 L281.77,370.03 L282.30,371.15 L282.77,371.81 L283.24,372.20 L283.70,372.91 L284.17,372.75 L284.63,374.30 L285.10,374.56 L285.56,374.31 L286.03,376.13 L286.50,376.06 L286.90,376.92 L287.33,376.78 L287.78,377.84 L288.24,378.16 L288.69,379.64 L289.13,379.99 L289.55,380.42 L289.93,381.17 L290.28,382.15 L290.57,382.02 L290.80,382.77" fill="none" stroke="#2b4a8c" stroke-width="1.4" stroke-linejoin="round" stroke-linecap="round"/>
<path d="M193.2,357.4 V344.4" stroke="#4b2e72" stroke-width="1.1"/>
<path d="M305.20,356.83 L305.58,356.65 L306.01,357.15 L306.49,357.25 L307.02,357.47 L307.59,357.81 L308.20,357.30 L308.84,357.36 L309.52,357.84 L310.23,357.75 L310.97,357.60 L311.73,357.75 L312.52,356.82 L313.32,357.52 L314.13,357.14 L314.96,357.68 L315.80,358.21 L316.64,357.22 L317.48,358.29 L318.33,357.73 L319.17,357.89 L320.00,357.82 L320.63,358.30 L321.28,357.76 L321.95,357.22 L322.63,358.19 L323.32,358.02 L324.03,358.34 L324.75,358.34 L325.48,357.63 L326.22,358.21 L326.96,358.19 L327.71,358.12 L328.47,358.20 L329.23,358.29 L329.99,357.95 L330.75,358.12 L331.51,358.58 L332.26,357.77 L333.01,358.17 L333.76,357.80 L334.50,357.78 L335.23,358.04 L335.95,358.28 L336.66,358.82 L337.36,358.13 L338.04,358.58 L338.71,358.42 L339.37,358.23 L340.00,356.96 L340.83,358.24 L341.65,358.20 L342.47,357.75 L343.27,358.20 L344.07,358.72 L344.85,357.64 L345.63,357.88 L346.39,358.42 L347.15,357.31 L347.89,357.59 L348.61,358.09 L349.32,358.32 L350.02,358.40 L350.70,358.19 L351.37,358.78 L352.02,357.98 L352.65,357.28 L353.27,357.69 L353.86,358.00 L354.44,357.87 L355.00,356.93 L356.01,357.81 L356.94,357.30 L357.81,357.50 L358.61,358.13 L359.36,357.44 L360.06,357.20 L360.72,357.39 L361.33,357.14 L361.91,358.18 L362.47,357.66 L363.00,357.67 L364.00,356.92 L364.76,356.78 L365.37,357.02 L365.92,356.01 L366.50,357.41 L367.11,356.80 L367.68,357.81 L368.22,358.45 L368.73,358.59 L369.20,359.64 L369.61,360.26 L369.96,361.14 L370.28,361.03 L370.62,362.32 L371.00,362.89 L371.14,363.11 L371.28,364.07 L371.43,364.11 L371.58,365.01 L371.73,365.88 L371.89,366.79 L372.05,367.17 L372.20,367.23 L372.36,369.10 L372.53,369.42 L372.69,370.01 L372.85,370.57 L373.01,371.88 L373.17,372.52 L373.33,373.37 L373.48,373.74 L373.64,375.10 L373.79,375.07 L373.94,376.02 L374.09,376.62 L374.24,377.65 L374.39,377.64 L374.55,378.48 L374.70,379.21 L374.86,379.74 L375.03,380.46 L375.19,380.96 L375.37,382.48 L375.55,383.53 L375.74,383.31 L375.90,384.66 L376.05,384.56 L376.21,385.37 L376.36,386.26 L376.52,387.13 L376.68,387.96 L376.84,387.72 L377.00,388.68 L377.17,389.96 L377.35,390.55 L377.53,392.22 L377.72,391.98 L377.92,392.56 L378.13,394.02 L378.35,393.20 L378.59,394.24 L378.84,396.78 L379.10,396.15 L379.35,397.06 L379.62,397.61 L379.89,397.99 L380.18,398.94 L380.48,399.14 L380.78,400.72 L381.10,401.31 L381.42,401.95 L381.75,401.97 L382.08,402.23 L382.42,403.46 L382.76,403.87 L383.11,405.10 L383.45,404.93 L383.80,405.82 L384.14,406.84 L384.49,407.54 L384.83,407.97 L385.17,407.98 L385.51,408.73 L385.95,410.47 L386.39,410.69 L386.83,410.59 L387.26,412.26 L387.70,412.01 L388.14,412.60 L388.58,412.79 L389.03,414.23 L389.48,414.16 L389.95,414.56 L390.42,414.69 L390.91,415.02 L391.41,416.06 L391.93,416.45 L392.47,417.53 L393.04,417.01 L393.67,417.70 L394.34,418.72 L395.04,419.12 L395.76,419.00 L396.49,420.31 L397.23,420.37 L397.95,420.96 L398.66,421.16 L399.33,421.80 L399.96,421.61 L400.53,422.02 L401.05,422.84 L401.49,422.83 L401.85,423.03" fill="none" stroke="#b5123b" stroke-width="1.5" stroke-linejoin="round" stroke-linecap="round"/>
<path d="M305.20,357.25 L305.58,356.91 L306.01,357.00 L306.49,355.99 L307.02,356.69 L307.59,357.26 L308.20,356.61 L308.84,356.88 L309.52,357.13 L310.23,357.02 L310.97,357.46 L311.73,357.34 L312.52,357.13 L313.32,357.67 L314.13,357.13 L314.96,357.03 L315.80,357.48 L316.64,357.64 L317.48,357.36 L318.33,357.02 L319.17,357.27 L320.00,357.59 L320.63,357.79 L321.28,358.24 L321.95,357.48 L322.63,357.47 L323.32,356.72 L324.03,358.10 L324.75,357.96 L325.48,357.61 L326.22,357.34 L326.96,356.59 L327.71,357.94 L328.47,357.34 L329.23,358.27 L329.99,357.98 L330.75,358.19 L331.51,357.63 L332.26,358.17 L333.01,357.14 L333.76,358.29 L334.50,357.69 L335.23,357.24 L335.95,357.55 L336.66,357.32 L337.36,357.82 L338.04,357.42 L338.71,357.20 L339.37,357.56 L340.00,357.61 L340.83,357.77 L341.65,357.96 L342.47,358.17 L343.27,357.81 L344.07,358.28 L344.85,356.62 L345.63,357.55 L346.39,357.93 L347.15,357.00 L347.89,357.42 L348.61,357.56 L349.32,356.82 L350.02,357.18 L350.70,357.62 L351.37,357.23 L352.02,357.94 L352.65,358.24 L353.27,357.24 L353.86,356.79 L354.44,357.21 L355.00,356.97 L356.01,356.59 L356.94,356.95 L357.81,356.88 L358.61,356.88 L359.36,357.34 L360.06,357.36 L360.72,357.06 L361.33,356.72 L361.91,357.00 L362.47,356.82 L363.00,356.89 L364.00,356.38 L364.76,355.50 L365.37,357.08 L365.92,356.56 L366.50,356.80 L367.10,357.33 L367.67,357.78 L368.21,358.22 L368.72,359.53 L369.20,359.55 L369.63,360.07 L370.00,360.03 L370.37,360.83 L370.76,361.77 L371.23,362.67 L371.41,363.31 L371.60,363.35 L371.80,364.46 L372.00,364.54 L372.21,365.45 L372.43,366.02 L372.65,367.13 L372.87,368.25 L373.10,368.69 L373.33,369.00 L373.55,370.18 L373.78,371.30 L374.01,371.93 L374.23,372.58 L374.45,372.65 L374.67,373.57 L374.88,374.22 L375.09,374.98 L375.30,375.95 L375.51,376.56 L375.72,377.08 L375.93,378.14 L376.15,378.32 L376.36,379.17 L376.59,380.04 L376.81,380.18 L377.04,381.10 L377.28,381.62 L377.52,382.51 L377.77,383.64 L377.97,384.27 L378.17,385.08 L378.38,385.72 L378.58,385.78 L378.79,387.64 L378.99,388.09 L379.20,387.74 L379.42,388.63 L379.63,389.39 L379.85,390.34 L380.08,391.19 L380.31,391.64 L380.55,391.30 L380.79,394.15 L381.04,394.03 L381.29,394.70 L381.55,394.76 L381.82,395.77 L382.10,396.77 L382.37,396.85 L382.66,398.14 L382.95,398.38 L383.25,399.64 L383.56,399.70 L383.87,400.94 L384.19,400.38 L384.52,402.27 L384.85,402.54 L385.18,402.87 L385.52,404.11 L385.85,404.23 L386.19,405.30 L386.53,405.98 L386.86,406.63 L387.20,407.69 L387.53,407.93 L387.86,408.94 L388.18,408.77 L388.50,409.06 L388.98,409.91 L389.44,410.44 L389.90,410.63 L390.35,411.81 L390.80,411.87 L391.25,412.80 L391.70,413.34 L392.16,413.77 L392.64,414.08 L393.12,415.05 L393.63,415.49 L394.15,416.54 L394.70,416.74 L395.25,417.32 L395.85,417.23 L396.50,417.76 L397.17,417.84 L397.87,418.45 L398.57,419.52 L399.27,419.58 L399.95,420.01 L400.60,420.23 L401.22,421.42 L401.78,421.11 L402.29,421.88 L402.72,421.67 L403.06,422.27" fill="none" stroke="#356b4c" stroke-width="1.4" stroke-linejoin="round" stroke-linecap="round"/>
<path d="M305.20,356.01 L305.58,355.88 L306.01,356.88 L306.49,356.35 L307.02,356.60 L307.59,356.88 L308.20,356.84 L308.84,356.71 L309.52,356.16 L310.23,356.40 L310.97,356.73 L311.73,357.01 L312.52,357.00 L313.32,356.98 L314.13,356.57 L314.96,356.91 L315.80,357.34 L316.64,356.64 L317.48,356.79 L318.33,357.41 L319.17,357.71 L320.00,357.26 L320.63,357.12 L321.28,356.75 L321.95,357.10 L322.63,356.85 L323.32,357.23 L324.03,357.47 L324.75,357.38 L325.48,357.73 L326.22,356.82 L326.96,356.73 L327.71,357.79 L328.47,357.67 L329.23,356.88 L329.99,357.33 L330.75,356.86 L331.51,357.28 L332.26,357.42 L333.01,357.68 L333.76,356.92 L334.50,356.80 L335.23,357.54 L335.95,357.18 L336.66,357.87 L337.36,356.86 L338.04,357.05 L338.71,356.22 L339.37,357.75 L340.00,357.83 L340.83,357.46 L341.65,357.16 L342.47,356.46 L343.27,356.70 L344.07,357.02 L344.85,357.96 L345.63,357.54 L346.39,356.92 L347.15,357.30 L347.89,357.32 L348.61,357.27 L349.32,356.68 L350.02,356.84 L350.70,357.38 L351.37,357.23 L352.02,356.79 L352.65,357.87 L353.27,356.98 L353.86,356.69 L354.44,357.18 L355.00,357.12 L356.01,356.71 L356.94,357.43 L357.81,357.09 L358.61,356.62 L359.36,356.84 L360.06,356.78 L360.72,356.36 L361.33,356.73 L361.91,356.20 L362.47,356.31 L363.00,356.66 L364.00,355.93 L364.76,356.34 L365.37,356.19 L365.92,357.03 L366.50,356.77 L367.10,358.10 L367.66,358.44 L368.20,358.09 L368.71,358.99 L369.20,359.36 L369.64,359.98 L370.03,360.65 L370.42,361.46 L370.85,362.46 L371.39,363.43 L371.59,362.69 L371.81,363.54 L372.04,364.25 L372.28,364.83 L372.53,365.69 L372.79,366.59 L373.05,366.89 L373.32,367.59 L373.59,369.52 L373.86,369.63 L374.13,370.99 L374.40,370.67 L374.67,372.20 L374.94,373.06 L375.20,373.63 L375.44,373.46 L375.68,374.62 L375.91,374.74 L376.15,375.24 L376.38,376.33 L376.62,377.17 L376.85,377.53 L377.09,378.22 L377.33,379.16 L377.57,379.30 L377.82,380.40 L378.07,381.21 L378.32,381.84 L378.58,382.50 L378.85,382.59 L379.13,383.59 L379.36,384.15 L379.60,385.24 L379.84,384.90 L380.08,386.30 L380.32,386.26 L380.57,387.82 L380.82,388.03 L381.07,388.93 L381.33,389.96 L381.59,390.95 L381.85,390.56 L382.12,391.69 L382.39,391.56 L382.66,392.94 L382.94,393.43 L383.22,394.65 L383.51,395.02 L383.80,395.78 L384.10,395.96 L384.39,396.91 L384.68,397.25 L384.99,398.36 L385.30,398.39 L385.61,399.80 L385.93,400.80 L386.26,402.08 L386.59,402.32 L386.92,402.92 L387.25,403.38 L387.58,404.35 L387.92,404.35 L388.25,405.17 L388.58,404.89 L388.91,406.05 L389.23,407.30 L389.56,406.73 L389.87,408.09 L390.18,408.47 L390.49,408.86 L390.98,409.91 L391.46,410.52 L391.92,410.75 L392.37,411.79 L392.81,411.70 L393.26,413.58 L393.71,413.50 L394.17,414.38 L394.64,414.16 L395.13,415.74 L395.64,415.90 L396.19,416.12 L396.78,416.55 L397.44,417.10 L398.15,417.14 L398.88,417.84 L399.64,418.26 L400.38,418.93 L401.11,419.80 L401.80,420.03 L402.44,420.02 L403.01,420.47 L403.49,420.38 L403.87,420.52" fill="none" stroke="#2b4a8c" stroke-width="1.5" stroke-linejoin="round" stroke-linecap="round"/>
<path d="M305.8,357.4 V344.4" stroke="#b5123b" stroke-width="1.1"/>
<path d="M412.6,357.1 C412.7,356.3 412.8,354.2 413.0,352.3 C413.2,350.4 413.4,345.9 413.6,345.7 C413.8,345.5 414.0,350.9 414.4,351.3 C414.8,351.7 415.6,347.7 416.1,348.0 C416.7,348.3 417.0,350.1 417.7,353.1 C418.4,356.1 419.3,361.9 420.2,365.9 C421.1,370.0 421.9,373.6 422.8,377.4 C423.7,381.2 424.5,385.5 425.3,388.9 C426.1,392.3 427.0,394.8 427.9,397.8 C428.8,400.8 429.6,404.2 430.5,406.8 C431.4,409.4 431.8,411.2 433.0,413.5 C434.2,415.8 436.3,418.9 438.0,420.8 C439.7,422.7 441.3,423.8 443.0,425.1 C444.7,426.4 446.0,427.3 448.0,428.5 C450.0,429.7 452.0,430.9 455.0,432.1 C458.0,433.3 462.7,434.8 466.0,435.9 C469.3,437.0 471.0,437.5 475.0,438.6 C479.0,439.7 485.8,441.5 490.0,442.3 C494.2,443.1 496.5,443.3 500.0,443.7 C503.5,444.1 509.2,444.7 511.0,444.9" fill="none" stroke="#b5123b" stroke-width="1.3" stroke-linejoin="round" stroke-linecap="round"/>
<path d="M416.1,347.7 L416.6,349.2 L417.1,350.6 L417.5,352.0 L417.9,353.8 L418.4,355.9 L418.8,358.0 L419.3,360.1 L419.7,362.2 L420.2,364.3 L420.6,366.1 L421.1,367.8 L421.5,369.5 L422.0,371.4 L422.4,373.1 L422.9,375.1 L423.3,376.4 L423.8,378.2 L424.2,379.4 L424.7,381.1 L425.1,383.0 L425.6,384.8 L426.0,385.1 L426.5,388.9 L426.9,388.6 L427.4,389.8 L427.8,391.2 L428.3,393.3 L428.7,394.9 L429.2,395.1 L429.6,392.5 L430.1,398.2 L430.5,399.0 L431.0,395.5 L431.4,402.2 L431.9,402.6 L432.3,402.3 L432.8,404.9 L433.2,405.9 L433.7,401.6 L434.1,405.2 L434.6,400.9 L435.0,407.5 L435.5,409.8 L435.9,409.9 L436.4,408.8 L436.8,405.3 L437.3,410.1 L437.7,409.4 L438.2,411.9 L438.6,405.8 L439.1,413.0 L439.5,414.8 L440.0,407.5 L440.4,414.5 L440.9,414.3 L441.3,415.9 L441.8,413.6 L442.2,414.0 L442.7,408.7 L443.1,416.8 L443.6,416.0 L444.0,415.4 L444.5,416.8 L444.9,417.8 L445.4,418.9 L445.8,418.8 L446.3,418.3 L446.7,417.0 L447.2,415.3 L447.6,417.7 L448.1,420.0 L448.5,421.1 L449.0,419.3 L449.4,420.3 L449.9,418.8 L450.3,420.4 L450.8,420.8 L451.2,416.0 L451.7,422.3 L452.1,423.4 L452.6,423.5 L453.0,422.0 L453.5,424.1 L453.9,425.1 L454.4,423.8 L454.8,422.9 L455.3,424.6 L455.7,426.0 L456.2,424.1 L456.6,425.5 L457.1,424.2 L457.5,426.2 L458.0,424.8 L458.4,425.7 L458.9,426.1 L459.3,425.5 L459.8,427.1 L460.2,425.4 L460.7,426.0 L461.1,427.1 L461.6,426.4 L462.0,426.3 L462.5,422.8 L462.9,427.4 L463.4,427.3 L463.8,422.2 L464.3,428.1 L464.7,428.6 L465.2,424.4 L465.6,431.1 L466.1,428.8 L466.5,428.8 L467.0,430.7 L467.4,430.2 L467.9,423.7 L468.3,425.3 L468.8,428.8 L469.2,426.4 L469.7,430.2 L470.1,430.4 L470.6,432.0 L471.0,424.0 L471.5,428.1 L471.9,431.0 L472.4,426.8 L472.8,431.2 L473.3,431.6 L473.7,431.0 L474.2,431.7 L474.6,435.2 L475.1,429.7 L475.5,432.7 L476.0,433.2 L476.4,433.7 L476.9,434.4 L477.3,433.3 L477.8,434.1 L478.2,435.4 L478.7,435.4 L479.1,434.5 L479.6,434.5 L480.0,433.7 L480.5,430.5 L480.9,434.0 L481.4,434.7 L481.8,434.5 L482.3,428.3 L482.7,437.2 L483.2,435.1 L483.6,435.8 L484.1,436.1 L484.5,435.8 L485.0,437.1 L485.4,434.5 L485.9,435.8 L486.3,435.1 L486.8,434.0 L487.2,436.1 L487.7,436.9 L488.1,436.8 L488.6,434.9 L489.0,438.0 L489.5,430.9 L489.9,437.3 L490.4,436.4 L490.8,434.3 L491.3,438.4 L491.7,439.7 L492.2,430.5 L492.6,439.1 L493.1,439.0 L493.5,435.7 L494.0,437.6 L494.4,431.3 L494.9,440.0 L495.3,431.1 L495.8,439.0 L496.2,434.8 L496.7,438.8 L497.1,437.2 L497.6,437.1 L498.0,438.1 L498.5,439.2 L498.9,439.2 L499.4,440.4 L499.8,437.5 L500.3,438.5 L500.7,438.7 L501.2,438.4 L501.6,437.1 L502.1,440.8 L502.5,437.6 L503.0,439.0 L503.4,438.0 L503.9,439.2 L504.3,440.9 L504.8,438.5 L505.2,439.1 L505.7,438.2 L506.1,436.7 L506.6,438.6 L507.0,440.9 L507.5,438.6 L507.9,440.3 L508.4,440.1 L508.8,439.1 L509.3,439.9 L509.7,432.7 L510.2,438.0 L510.6,439.7" fill="none" stroke="#356b4c" stroke-width="0.7" stroke-linejoin="round" opacity="0.85"/>
<path d="M416.1,347.7 C416.4,348.5 417.0,349.8 417.7,352.6 C418.4,355.4 419.3,360.7 420.2,364.3 C421.1,367.9 421.9,371.3 422.8,374.5 C423.7,377.7 424.5,380.5 425.3,383.5 C426.1,386.5 427.0,389.7 427.9,392.4 C428.8,395.1 429.6,397.4 430.5,399.5 C431.4,401.6 431.8,402.9 433.0,405.0 C434.2,407.1 436.3,410.2 438.0,412.0 C439.7,413.8 441.3,414.8 443.0,416.0 C444.7,417.2 446.2,418.1 448.0,419.3 C449.8,420.6 451.2,421.9 454.0,423.5 C456.8,425.1 461.5,427.7 465.0,429.2 C468.5,430.7 470.8,431.3 475.0,432.7 C479.2,434.1 485.8,436.5 490.0,437.5 C494.2,438.5 496.5,438.4 500.0,438.9 C503.5,439.3 509.2,440.0 511.0,440.2" fill="none" stroke="#356b4c" stroke-width="2.0" stroke-linejoin="round" stroke-linecap="round"/>
<path d="M412.6,356.8 C412.7,356.0 412.8,353.9 413.0,352.0 C413.2,350.1 413.4,345.6 413.6,345.4 C413.8,345.2 414.0,350.6 414.4,351.0 C414.8,351.4 415.6,347.4 416.1,347.7 C416.7,348.0 417.0,349.8 417.7,352.8 C418.4,355.8 419.8,363.5 420.2,365.6" fill="none" stroke="#2b4a8c" stroke-width="1.3" stroke-linejoin="round" stroke-linecap="round"/>
<path d="M420.2,365.6 C420.6,367.5 421.9,373.3 422.8,377.1 C423.7,380.9 424.5,385.2 425.3,388.6 C426.1,392.0 427.0,394.5 427.9,397.5 C428.8,400.5 429.6,403.9 430.5,406.5 C431.4,409.1 432.6,412.1 433.0,413.2" fill="none" stroke="#2b4a8c" stroke-width="1.6" stroke-linejoin="round" stroke-linecap="round"/>
<path d="M433.0,413.2 C433.8,414.4 436.3,418.6 438.0,420.5 C439.7,422.4 441.3,423.5 443.0,424.8 C444.7,426.1 446.0,427.0 448.0,428.2 C450.0,429.4 453.8,431.2 455.0,431.8" fill="none" stroke="#2b4a8c" stroke-width="2.3" stroke-linejoin="round" stroke-linecap="round"/>
<path d="M455.0,431.8 C456.8,432.4 462.7,434.5 466.0,435.6 C469.3,436.7 471.0,437.2 475.0,438.3 C479.0,439.4 485.8,441.1 490.0,442.0 C494.2,442.9 496.5,443.0 500.0,443.4 C503.5,443.8 509.2,444.4 511.0,444.6" fill="none" stroke="#2b4a8c" stroke-width="3.0" stroke-linejoin="round" stroke-linecap="round"/>
<rect x="411.8" y="355.6" width="1.8" height="2" fill="#2b4a8c"/>
<g stroke-width="1.4"><path d="M439.7,353 H463.7" stroke="#2b4a8c"/><path d="M439.7,372.8 H463.7" stroke="#b5123b"/><path d="M439.7,392.5 H463.7" stroke="#356b4c"/></g>
<text x="467.3" y="355.9" font-size="8.6" textLength="11.4" lengthAdjust="spacingAndGlyphs">WT</text>
<text x="467.3" y="375.7" font-size="8.6" textLength="15.5" lengthAdjust="spacingAndGlyphs">G6b</text><text x="482.9" y="372.1" font-size="5.8" textLength="14.3" lengthAdjust="spacingAndGlyphs" style="stroke-width:0.08px">hu/hu</text>
<text x="467.3" y="395.3" font-size="8.6" textLength="15.5" lengthAdjust="spacingAndGlyphs">G6b</text><text x="482.9" y="391.7" font-size="5.8" textLength="10" lengthAdjust="spacingAndGlyphs" style="stroke-width:0.08px">hu/-</text>
<path d="M80.9,495.5 C81.1,495.9 81.7,498.0 82.2,498.1 C82.7,498.2 79.9,496.4 84.0,496.0 C88.1,495.6 99.4,495.9 106.7,495.5 C114.0,495.1 120.9,494.4 127.9,493.9 C135.0,493.4 140.3,492.8 149.0,492.4 C157.7,492.0 174.9,491.5 180.1,491.3" fill="none" stroke="#356b4c" stroke-width="1.0" stroke-linejoin="round" stroke-linecap="round"/>
<path d="M80.9,495.5 C81.1,495.9 81.7,498.0 82.2,498.1 C82.7,498.2 83.1,496.4 84.0,496.0 C84.9,495.6 84.3,495.6 87.7,495.4 C91.1,495.2 100.4,495.1 104.6,494.8 C108.8,494.5 110.9,493.9 113.1,493.4 C115.3,492.9 116.2,492.3 118.0,491.8 C119.8,491.3 121.0,490.9 123.7,490.4 C126.4,489.9 130.3,489.2 134.2,488.7 C138.1,488.2 142.0,487.9 146.9,487.6 C151.8,487.3 158.3,487.3 163.8,487.0 C169.3,486.7 177.4,486.2 180.1,486.0" fill="none" stroke="#b5123b" stroke-width="1.0" stroke-linejoin="round" stroke-linecap="round"/>
<path d="M80.9,495.5 C81.1,495.9 81.7,498.0 82.2,498.1 C82.7,498.2 83.1,496.4 84.0,496.0 C84.9,495.6 84.3,495.6 87.7,495.4 C91.1,495.2 100.4,495.1 104.6,494.8 C108.8,494.5 110.9,493.9 113.1,493.4 C115.3,492.9 116.2,492.2 118.0,491.6 C119.8,491.0 121.0,490.5 123.7,489.8 C126.4,489.1 130.3,488.4 134.2,487.7 C138.1,487.0 142.0,486.1 146.9,485.5 C151.8,484.9 158.3,484.2 163.8,483.8 C169.3,483.4 177.4,483.3 180.1,483.2" fill="none" stroke="#2b4a8c" stroke-width="1.0" stroke-linejoin="round" stroke-linecap="round"/>
<path d="M192.4,494.0 C194.5,494.1 199.9,494.3 205.0,494.5 C210.1,494.7 218.1,495.2 223.1,495.1 C228.1,495.0 230.8,494.4 235.0,493.8 C239.2,493.2 242.7,492.3 248.5,491.3 C254.3,490.3 264.4,488.8 269.6,487.7 C274.9,486.6 276.5,486.2 280.0,485.0 C283.5,483.8 289.0,481.4 290.8,480.7" fill="none" stroke="#356b4c" stroke-width="1.0" stroke-linejoin="round" stroke-linecap="round"/>
<path d="M192.4,496.5 C198.2,496.6 216.2,497.2 227.3,497.0 C238.4,496.8 251.2,496.0 259.0,495.5 C266.8,495.0 268.6,494.6 273.9,494.0 C279.2,493.4 288.0,492.2 290.8,491.9" fill="none" stroke="#b5123b" stroke-width="1.0" stroke-linejoin="round" stroke-linecap="round"/>
<path d="M192.4,497.0 C201.8,497.0 232.1,497.3 248.5,497.0 C264.9,496.7 283.8,495.7 290.8,495.4" fill="none" stroke="#2b4a8c" stroke-width="1.0" stroke-linejoin="round" stroke-linecap="round"/>
<path d="M192.6,493 V498.4" stroke="#2b4a6c" stroke-width="0.9"/>
<path d="M304.9,496.7 C305.1,497.1 305.6,498.7 306.0,498.8 C306.4,498.9 303.3,497.8 307.4,497.6 C311.5,497.4 321.8,497.8 330.4,497.8 C339.0,497.8 352.8,498.0 358.9,497.6 C365.0,497.2 364.8,496.4 367.3,495.4 C369.8,494.5 371.8,493.2 373.7,491.9 C375.6,490.6 376.9,488.9 379.0,487.6 C381.1,486.4 383.8,485.2 386.4,484.4 C389.0,483.6 391.6,483.3 394.4,482.9 C397.2,482.5 401.8,482.1 403.3,481.9" fill="none" stroke="#b5123b" stroke-width="1.0" stroke-linejoin="round" stroke-linecap="round"/>
<path d="M304.5,496.1 C304.7,496.5 305.2,498.1 305.6,498.2 C306.0,498.3 302.9,497.2 307.0,497.0 C311.1,496.8 321.4,497.2 330.0,497.2 C338.6,497.2 352.4,497.4 358.5,497.0 C364.6,496.6 364.4,495.8 366.9,494.8 C369.4,493.9 371.4,492.6 373.3,491.3 C375.2,490.0 376.5,488.2 378.6,487.0 C380.7,485.8 383.4,484.6 386.0,483.8 C388.6,483.0 391.2,482.7 394.0,482.3 C396.8,481.9 401.4,481.5 402.9,481.3" fill="none" stroke="#356b4c" stroke-width="1.0" stroke-linejoin="round" stroke-linecap="round"/>
<path d="M304.5,496.1 C304.7,496.5 305.2,498.1 305.6,498.2 C306.0,498.3 302.9,497.2 307.0,497.0 C311.1,496.8 321.4,497.2 330.0,497.2 C338.6,497.2 352.2,497.3 358.5,497.0 C364.8,496.7 364.9,496.0 367.5,495.2 C370.1,494.4 372.0,493.3 374.0,492.2 C376.0,491.1 377.2,489.3 379.6,488.3 C382.0,487.3 384.2,486.7 388.1,486.0 C392.0,485.3 400.4,484.6 402.9,484.3" fill="none" stroke="#2b4a8c" stroke-width="1.0" stroke-linejoin="round" stroke-linecap="round"/>
<path d="M412.4,495.5 C412.6,496.1 413.2,499.5 413.9,499.1 C414.6,498.7 415.9,496.2 416.6,493.0 C417.3,489.8 417.6,483.8 418.1,480.0 C418.6,476.2 419.2,472.2 419.8,470.0 C420.4,467.8 420.8,467.3 421.9,466.5 C423.0,465.7 423.7,465.1 426.2,465.2 C428.7,465.3 433.2,466.3 436.7,467.0 C440.2,467.7 442.0,468.5 447.3,469.5 C452.6,470.5 457.9,471.5 468.5,472.8 C479.1,474.1 503.8,476.4 510.8,477.1" fill="none" stroke="#b5123b" stroke-width="1.0" stroke-linejoin="round" stroke-linecap="round"/>
<path d="M412.1,495.8 C412.3,496.4 412.9,499.9 413.6,499.4 C414.3,498.9 415.6,496.2 416.3,492.6 C417.0,489.0 417.3,482.0 417.8,477.8 C418.3,473.6 418.9,469.8 419.5,467.2 C420.1,464.6 420.5,463.1 421.6,461.9 C422.7,460.7 423.4,460.0 425.9,460.2 C428.4,460.4 432.9,462.0 436.4,463.0 C439.9,464.0 442.4,465.1 447.0,466.2 C451.6,467.3 457.5,468.6 463.9,469.8 C470.2,471.0 477.3,472.2 485.1,473.1 C492.9,474.0 506.3,474.8 510.5,475.1" fill="none" stroke="#356b4c" stroke-width="1.0" stroke-linejoin="round" stroke-linecap="round"/>
<path d="M412.7,495.3 C412.9,495.9 413.5,499.4 414.2,498.9 C414.9,498.4 416.2,495.7 416.9,492.1 C417.6,488.5 417.9,481.5 418.4,477.3 C418.9,473.1 419.5,469.3 420.1,466.7 C420.7,464.1 421.1,462.6 422.2,461.4 C423.3,460.2 424.0,459.5 426.5,459.7 C429.0,459.9 433.5,461.5 437.0,462.5 C440.5,463.5 443.0,464.6 447.6,465.7 C452.2,466.8 458.1,468.1 464.5,469.3 C470.9,470.5 477.9,471.7 485.7,472.6 C493.5,473.5 506.9,474.3 511.1,474.6" fill="none" stroke="#2b4a8c" stroke-width="1.0" stroke-linejoin="round" stroke-linecap="round"/>
<!-- TRACES_END -->

<!-- BOTTOM_START -->
<text x="23.8" y="531.7" font-size="9.2" textLength="8.5" lengthAdjust="spacingAndGlyphs" style="stroke-width:0.05px">(ii)</text>
<g stroke="#111" stroke-width="1.3" fill="none"><path d="M61.2,536.4 V660.3 H260.5"/>
<path d="M56.4,660.3 H61.2"/>
<path d="M56.4,636.2 H61.2"/>
<path d="M56.4,612.2 H61.2"/>
<path d="M56.4,588.1 H61.2"/>
<path d="M56.4,564.1 H61.2"/>
<path d="M56.4,540.0 H61.2"/>
</g>
<text x="54" y="662.6999999999999" font-size="8.6" textLength="4.6" lengthAdjust="spacingAndGlyphs" text-anchor="end">0</text>
<text x="54" y="638.65" font-size="8.6" textLength="13.799999999999999" lengthAdjust="spacingAndGlyphs" text-anchor="end">100</text>
<text x="54" y="614.5999999999999" font-size="8.6" textLength="13.799999999999999" lengthAdjust="spacingAndGlyphs" text-anchor="end">200</text>
<text x="54" y="590.55" font-size="8.6" textLength="13.799999999999999" lengthAdjust="spacingAndGlyphs" text-anchor="end">300</text>
<text x="54" y="566.4999999999999" font-size="8.6" textLength="13.799999999999999" lengthAdjust="spacingAndGlyphs" text-anchor="end">400</text>
<text x="54" y="542.4499999999999" font-size="8.6" textLength="13.799999999999999" lengthAdjust="spacingAndGlyphs" text-anchor="end">500</text>
<text transform="translate(33.2,598.3) rotate(-90)" font-size="10" text-anchor="middle" textLength="84.6" lengthAdjust="spacingAndGlyphs">Aggregation (AUC)</text>
<rect x="65.65" y="602.85" width="8.60" height="57.4" fill="#2c4a86" stroke="#223a70" stroke-width="0.5"/>
<path d="M70.0,602.6 V598.5 M67.5,598.5 H72.4" stroke="#111" stroke-width="1.1"/>
<rect x="79.85" y="619.95" width="8.60" height="40.3" fill="#a5042b" stroke="#8a0022" stroke-width="0.5"/>
<path d="M84.1,619.7 V611.2 M81.7,611.2 H86.5" stroke="#111" stroke-width="1.1"/>
<rect x="93.95" y="648.25" width="8.60" height="12.0" fill="#386a4e" stroke="#2a5a3e" stroke-width="0.5"/>
<path d="M98.2,648.0 V644.0 M95.8,644.0 H100.7" stroke="#111" stroke-width="1.1"/>
<rect x="117.45" y="655.55" width="8.60" height="4.8" fill="#2c4a86" stroke="#223a70" stroke-width="0.5"/>
<path d="M121.8,655.3 V654.6 M119.3,654.6 H124.2" stroke="#111" stroke-width="1.1"/>
<rect x="131.25" y="647.05" width="8.60" height="13.2" fill="#a5042b" stroke="#8a0022" stroke-width="0.5"/>
<path d="M135.6,646.8 V642.7 M133.2,642.7 H138.0" stroke="#111" stroke-width="1.1"/>
<rect x="145.55" y="624.75" width="8.60" height="35.5" fill="#386a4e" stroke="#2a5a3e" stroke-width="0.5"/>
<path d="M149.9,624.5 V611.5 M147.5,611.5 H152.3" stroke="#111" stroke-width="1.1"/>
<rect x="168.85" y="631.95" width="8.60" height="28.3" fill="#2c4a86" stroke="#223a70" stroke-width="0.5"/>
<path d="M173.2,631.7 V625.1 M170.8,625.1 H175.6" stroke="#111" stroke-width="1.1"/>
<rect x="182.55" y="621.55" width="8.60" height="38.8" fill="#a5042b" stroke="#8a0022" stroke-width="0.5"/>
<path d="M186.9,621.3 V612.1 M184.5,612.1 H189.3" stroke="#111" stroke-width="1.1"/>
<rect x="196.85" y="628.55" width="8.60" height="31.8" fill="#386a4e" stroke="#2a5a3e" stroke-width="0.5"/>
<path d="M201.2,628.3 V619.6 M198.8,619.6 H203.6" stroke="#111" stroke-width="1.1"/>
<rect x="220.35" y="571.45" width="8.60" height="88.8" fill="#2c4a86" stroke="#223a70" stroke-width="0.5"/>
<path d="M224.7,571.2 V568.0 M222.2,568.0 H227.1" stroke="#111" stroke-width="1.1"/>
<rect x="234.25" y="570.35" width="8.60" height="89.9" fill="#a5042b" stroke="#8a0022" stroke-width="0.5"/>
<path d="M238.6,570.1 V564.2 M236.2,564.2 H241.0" stroke="#111" stroke-width="1.1"/>
<rect x="248.55" y="578.35" width="8.60" height="81.9" fill="#386a4e" stroke="#2a5a3e" stroke-width="0.5"/>
<path d="M252.9,578.1 V576.6 M250.5,576.6 H255.3" stroke="#111" stroke-width="1.1"/>
<path d="M83.5,598.6 H98.2" stroke="#111" stroke-width="1.2"/>
<text x="90.6" y="599.0" font-size="8.6" textLength="10" lengthAdjust="spacingAndGlyphs" text-anchor="middle">***</text>
<text x="84.2" y="611.0" font-size="8.6" textLength="3.4" lengthAdjust="spacingAndGlyphs" text-anchor="middle">*</text>
<text x="98.4" y="644.8" font-size="8.6" textLength="10" lengthAdjust="spacingAndGlyphs" text-anchor="middle">***</text>
<text x="150" y="611.7" font-size="8.6" textLength="3.4" lengthAdjust="spacingAndGlyphs" text-anchor="middle">*</text>
<text x="84.0" y="671.0" font-size="8.6" textLength="4.6" lengthAdjust="spacingAndGlyphs" text-anchor="middle">3</text>
<text x="84.0" y="682.3" font-size="8.6" textLength="14.4" lengthAdjust="spacingAndGlyphs" text-anchor="middle">CRP</text>
<text x="84.0" y="693.3" font-size="8.6" textLength="28.2" lengthAdjust="spacingAndGlyphs" text-anchor="middle">(μg/ml)</text>
<text x="135.9" y="671.0" font-size="8.6" textLength="4.6" lengthAdjust="spacingAndGlyphs" text-anchor="middle">3</text>
<text x="135.9" y="682.3" font-size="8.6" textLength="39.3" lengthAdjust="spacingAndGlyphs" text-anchor="middle">CLEC-2 Ab</text>
<text x="135.9" y="693.3" font-size="8.6" textLength="28.2" lengthAdjust="spacingAndGlyphs" text-anchor="middle">(μg/ml)</text>
<text x="187.3" y="671.0" font-size="8.6" textLength="4.6" lengthAdjust="spacingAndGlyphs" text-anchor="middle">3</text>
<text x="187.3" y="682.3" font-size="8.6" textLength="23" lengthAdjust="spacingAndGlyphs" text-anchor="middle">rhodo</text>
<text x="187.3" y="693.3" font-size="8.6" textLength="16.2" lengthAdjust="spacingAndGlyphs" text-anchor="middle">(nM)</text>
<text x="239" y="671.0" font-size="8.6" textLength="18.2" lengthAdjust="spacingAndGlyphs" text-anchor="middle">0.06</text>
<text x="239" y="682.3" font-size="8.6" textLength="35.5" lengthAdjust="spacingAndGlyphs" text-anchor="middle">thrombin</text>
<text x="239" y="693.3" font-size="8.6" textLength="24.5" lengthAdjust="spacingAndGlyphs" text-anchor="middle">(U/ml)</text>
<text x="274" y="532.3" font-size="9.2" textLength="11" lengthAdjust="spacingAndGlyphs" style="stroke-width:0.05px">(iii)</text>
<g stroke="#111" stroke-width="1.3" fill="none"><path d="M301,536.4 V660.2 H504"/>
<path d="M296.2,660.2 H301"/>
<path d="M296.2,636.0 H301"/>
<path d="M296.2,611.8 H301"/>
<path d="M296.2,587.6 H301"/>
<path d="M296.2,563.4 H301"/>
<path d="M296.2,539.2 H301"/>
</g>
<text x="294.4" y="662.6" font-size="8.6" textLength="4.6" lengthAdjust="spacingAndGlyphs" text-anchor="end">0</text>
<text x="294.4" y="638.4" font-size="8.6" textLength="4.6" lengthAdjust="spacingAndGlyphs" text-anchor="end">1</text>
<text x="294.4" y="614.2" font-size="8.6" textLength="4.6" lengthAdjust="spacingAndGlyphs" text-anchor="end">2</text>
<text x="294.4" y="590.0" font-size="8.6" textLength="4.6" lengthAdjust="spacingAndGlyphs" text-anchor="end">3</text>
<text x="294.4" y="565.8000000000001" font-size="8.6" textLength="4.6" lengthAdjust="spacingAndGlyphs" text-anchor="end">4</text>
<text x="294.4" y="541.6" font-size="8.6" textLength="4.6" lengthAdjust="spacingAndGlyphs" text-anchor="end">5</text>
<text transform="translate(283.4,598) rotate(-90)" font-size="10" text-anchor="middle" textLength="79.2" lengthAdjust="spacingAndGlyphs">ATP release (AUC)</text>
<rect x="306.15" y="639.65" width="8.60" height="20.6" fill="#2c4a86" stroke="#223a70" stroke-width="0.5"/>
<path d="M310.4,639.4 V636.4 M308.1,636.4 H312.8" stroke="#111" stroke-width="1.1"/>
<rect x="319.85" y="640.45" width="8.60" height="19.8" fill="#a5042b" stroke="#8a0022" stroke-width="0.5"/>
<path d="M324.2,640.2 V634.6 M321.8,634.6 H326.6" stroke="#111" stroke-width="1.1"/>
<rect x="333.85" y="655.25" width="8.60" height="5.0" fill="#386a4e" stroke="#2a5a3e" stroke-width="0.5"/>
<path d="M338.2,655.0 V653.5 M335.8,653.5 H340.6" stroke="#111" stroke-width="1.1"/>
<rect x="371.35" y="658.25" width="8.60" height="2.0" fill="#a5042b" stroke="#8a0022" stroke-width="0.5"/>
<path d="M375.7,658.0 V655.4 M373.3,655.4 H378.1" stroke="#111" stroke-width="1.1"/>
<rect x="385.25" y="649.85" width="8.60" height="10.4" fill="#386a4e" stroke="#2a5a3e" stroke-width="0.5"/>
<path d="M389.6,649.6 V643.3 M387.2,643.3 H391.9" stroke="#111" stroke-width="1.1"/>
<rect x="409.05" y="641.25" width="8.60" height="19.0" fill="#2c4a86" stroke="#223a70" stroke-width="0.5"/>
<path d="M413.4,641.0 V629.0 M411.0,629.0 H415.8" stroke="#111" stroke-width="1.1"/>
<rect x="422.65" y="632.45" width="8.60" height="27.8" fill="#a5042b" stroke="#8a0022" stroke-width="0.5"/>
<path d="M426.9,632.2 V622.0 M424.6,622.0 H429.3" stroke="#111" stroke-width="1.1"/>
<rect x="436.85" y="633.05" width="8.60" height="27.2" fill="#386a4e" stroke="#2a5a3e" stroke-width="0.5"/>
<path d="M441.2,632.8 V620.7 M438.8,620.7 H443.6" stroke="#111" stroke-width="1.1"/>
<rect x="460.05" y="571.45" width="8.60" height="88.8" fill="#2c4a86" stroke="#223a70" stroke-width="0.5"/>
<path d="M464.4,571.2 V565.5 M462.0,565.5 H466.8" stroke="#111" stroke-width="1.1"/>
<rect x="473.95" y="581.65" width="8.60" height="78.6" fill="#a5042b" stroke="#8a0022" stroke-width="0.5"/>
<path d="M478.2,581.4 V571.2 M475.9,571.2 H480.6" stroke="#111" stroke-width="1.1"/>
<rect x="488.25" y="573.35" width="8.60" height="86.9" fill="#386a4e" stroke="#2a5a3e" stroke-width="0.5"/>
<path d="M492.6,573.1 V561.7 M490.2,561.7 H494.9" stroke="#111" stroke-width="1.1"/>
<text x="323.6" y="671.0" font-size="8.6" textLength="4.6" lengthAdjust="spacingAndGlyphs" text-anchor="middle">3</text>
<text x="323.6" y="682.3" font-size="8.6" textLength="14.4" lengthAdjust="spacingAndGlyphs" text-anchor="middle">CRP</text>
<text x="323.6" y="693.3" font-size="8.6" textLength="28.2" lengthAdjust="spacingAndGlyphs" text-anchor="middle">(μg/ml)</text>
<text x="375.5" y="671.0" font-size="8.6" textLength="4.6" lengthAdjust="spacingAndGlyphs" text-anchor="middle">3</text>
<text x="375.5" y="682.3" font-size="8.6" textLength="39.7" lengthAdjust="spacingAndGlyphs" text-anchor="middle">CLEC-2 Ab</text>
<text x="375.5" y="693.3" font-size="8.6" textLength="28.2" lengthAdjust="spacingAndGlyphs" text-anchor="middle">(μg/ml)</text>
<text x="427.6" y="671.0" font-size="8.6" textLength="4.6" lengthAdjust="spacingAndGlyphs" text-anchor="middle">3</text>
<text x="427.6" y="682.3" font-size="8.6" textLength="21.5" lengthAdjust="spacingAndGlyphs" text-anchor="middle">rhodo</text>
<text x="427.6" y="693.3" font-size="8.6" textLength="16.8" lengthAdjust="spacingAndGlyphs" text-anchor="middle">(nM)</text>
<text x="479.4" y="671.0" font-size="8.6" textLength="17.1" lengthAdjust="spacingAndGlyphs" text-anchor="middle">0.06</text>
<text x="479.4" y="682.3" font-size="8.6" textLength="35.6" lengthAdjust="spacingAndGlyphs" text-anchor="middle">thrombin</text>
<text x="479.4" y="693.3" font-size="8.6" textLength="22.2" lengthAdjust="spacingAndGlyphs" text-anchor="middle">(U/ml)</text>
<rect x="354.25" y="542.55" width="14.7" height="9.3" fill="#2c4a86" stroke="#223a70" stroke-width="0.5"/>
<rect x="354.25" y="563.85" width="14.7" height="9.3" fill="#a5042b" stroke="#8a0022" stroke-width="0.5"/>
<rect x="354.25" y="586.05" width="14.7" height="9.3" fill="#386a4e" stroke="#2a5a3e" stroke-width="0.5"/>
<text x="372.4" y="549.9" font-size="8.6" textLength="11.6" lengthAdjust="spacingAndGlyphs">WT</text>
<text x="372.4" y="571.8" font-size="8.6" textLength="14.2" lengthAdjust="spacingAndGlyphs">G6b</text><text x="386.8" y="567.9" font-size="5.8" textLength="15.2" lengthAdjust="spacingAndGlyphs" style="stroke-width:0.08px">hu/hu</text>
<text x="372.4" y="593.9" font-size="8.6" textLength="14.2" lengthAdjust="spacingAndGlyphs">G6b</text><text x="386.8" y="590.0" font-size="5.8" textLength="10.4" lengthAdjust="spacingAndGlyphs" style="stroke-width:0.08px">hu/-</text>
<!-- BOTTOM_END -->
</svg>
</body></html>
